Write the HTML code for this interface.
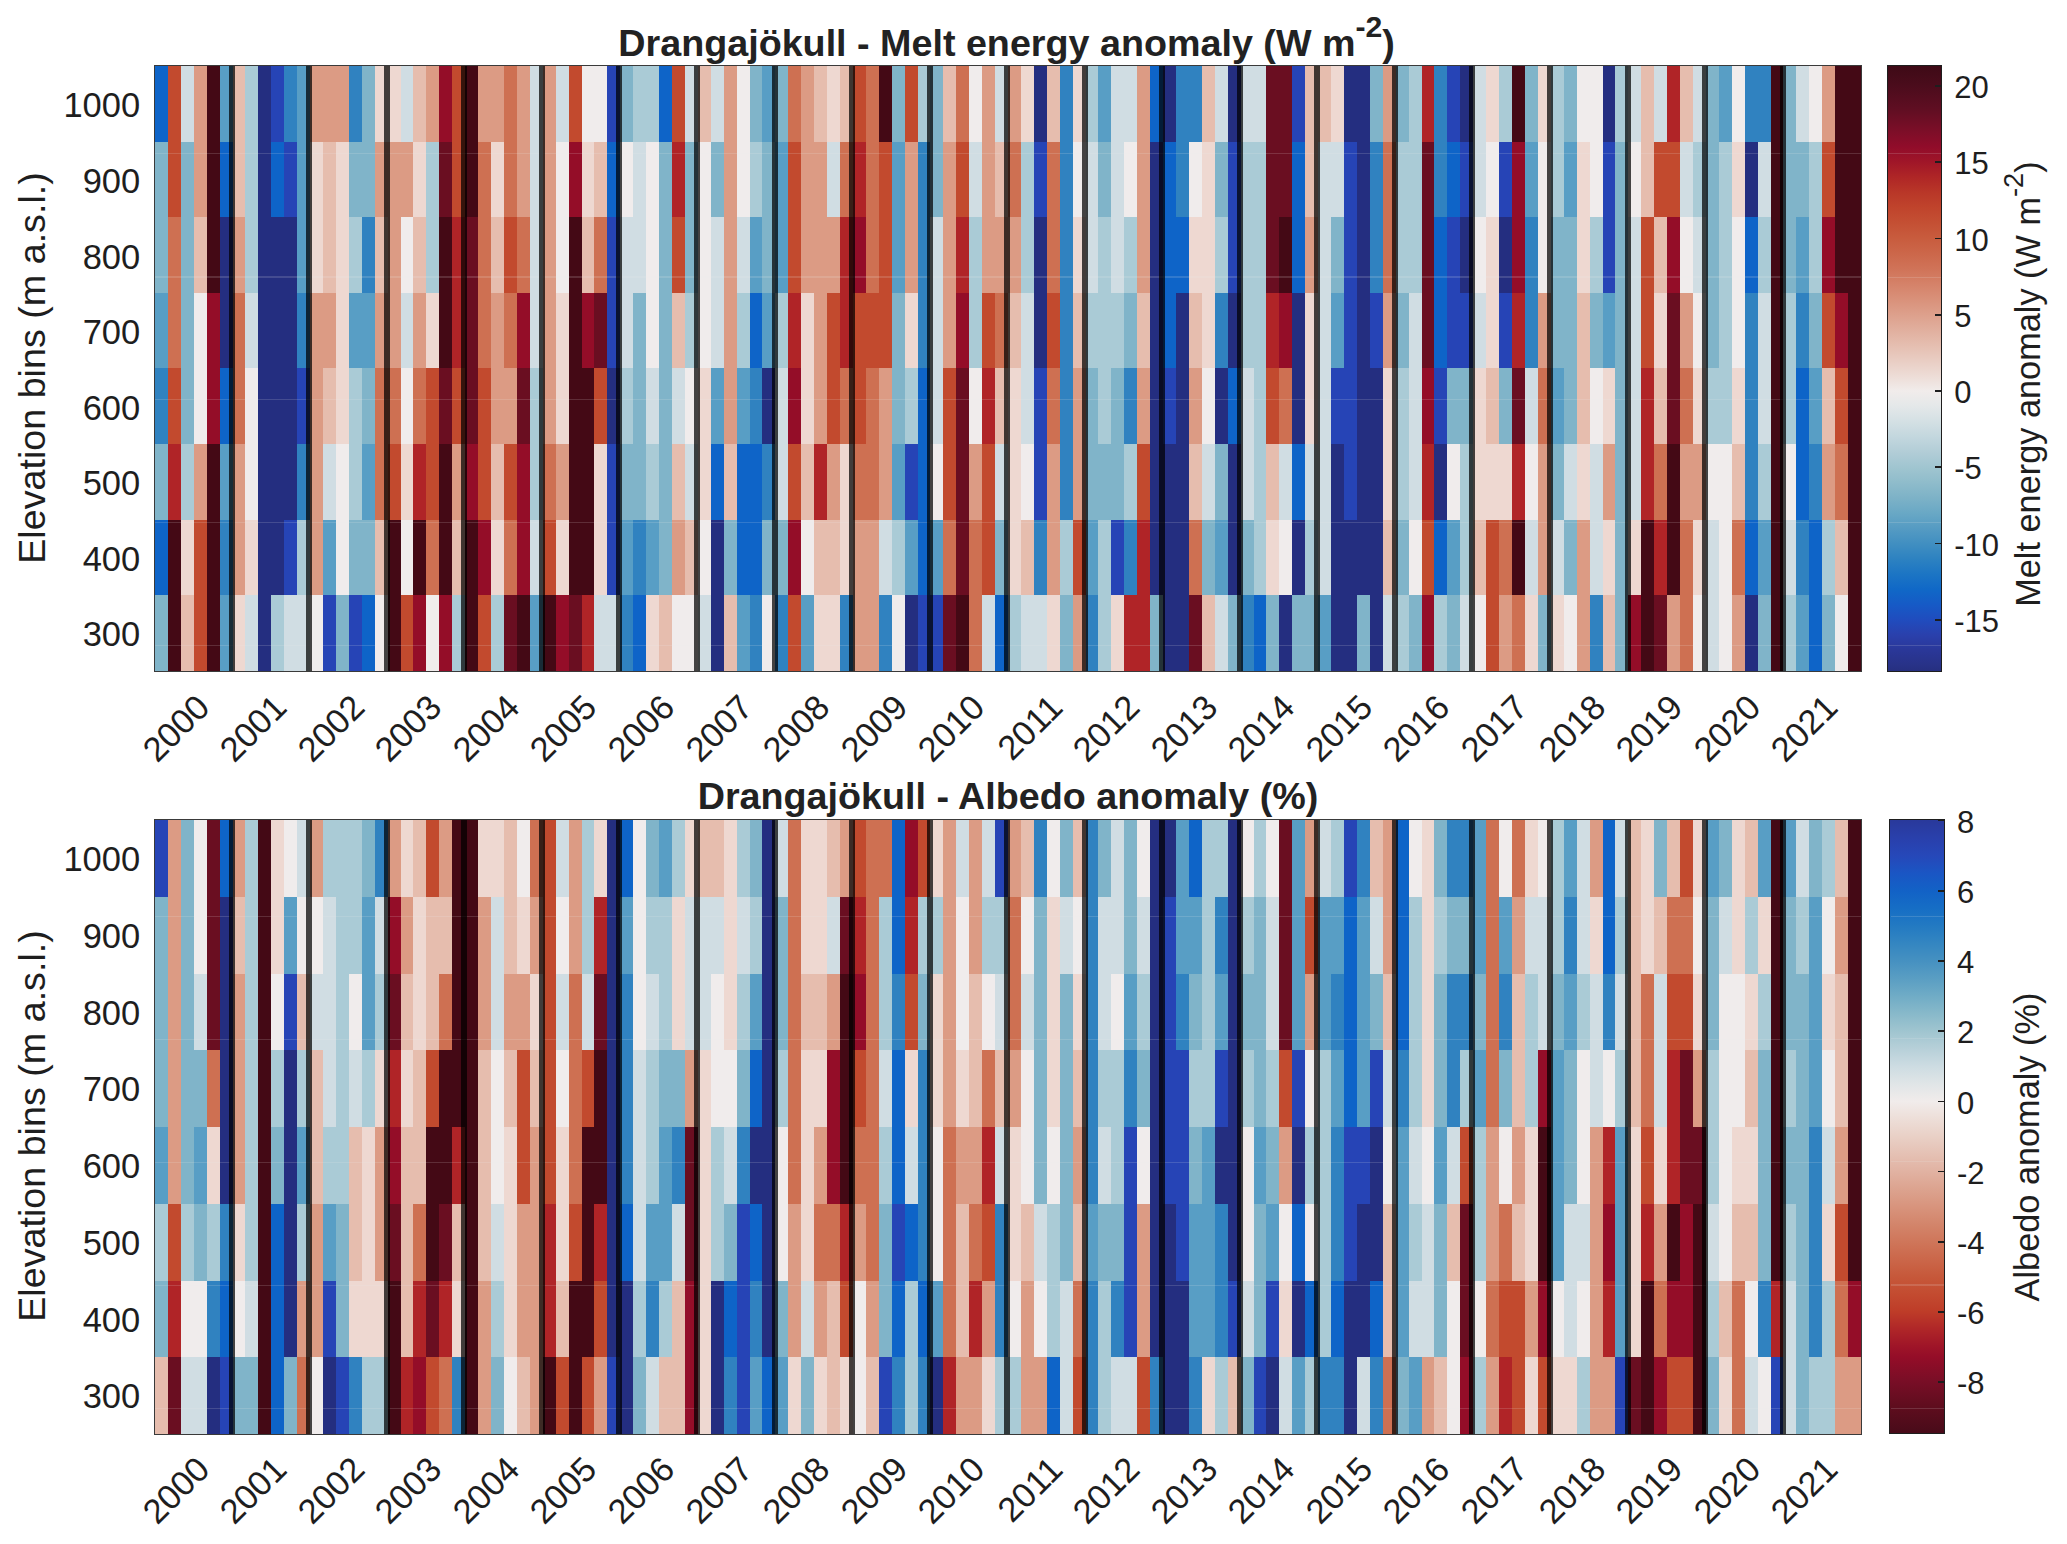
<!DOCTYPE html>
<html><head><meta charset="utf-8"><title>Drangajokull</title>
<style>
html,body{margin:0;padding:0;background:#fff}
body{width:2067px;height:1544px;position:relative;overflow:hidden;font-family:"Liberation Sans",sans-serif;color:#1e1e1e}
.hm{position:absolute;display:block}
.box{position:absolute;border:1.6px solid #3a3a3a;box-sizing:content-box;pointer-events:none}
.a{fill:rgb(36,46,128)}
.b{fill:rgb(38,68,182)}
.c{fill:rgb(14,100,200)}
.d{fill:rgb(48,130,192)}
.e{fill:rgb(88,158,197)}
.f{fill:rgb(128,180,201)}
.g{fill:rgb(170,203,214)}
.h{fill:rgb(208,221,227)}
.i{fill:rgb(240,236,236)}
.j{fill:rgb(238,216,209)}
.k{fill:rgb(230,189,174)}
.l{fill:rgb(220,155,132)}
.m{fill:rgb(206,112,82)}
.n{fill:rgb(194,74,46)}
.o{fill:rgb(176,36,39)}
.p{fill:rgb(148,13,40)}
.q{fill:rgb(106,14,33)}
.r{fill:rgb(68,9,21)}
.title{position:absolute;width:1400px;text-align:center;font-weight:bold;font-size:37.7px;letter-spacing:0.0px;line-height:50px;height:50px;white-space:nowrap;color:#222}
.title sup{font-size:30.2px;line-height:0;vertical-align:baseline;position:relative;top:-19px}
.yt{position:absolute;left:0;width:140.2px;text-align:right;font-size:34.5px;line-height:50px;height:50px}
.xt{position:absolute;width:200px;text-align:right;font-size:34.5px;line-height:50px;height:50px;transform-origin:100% 50%;transform:rotate(-45deg);white-space:nowrap}
.yl{position:absolute;width:800px;text-align:center;font-size:37.7px;line-height:50px;height:50px;transform:rotate(-90deg);transform-origin:50% 50%;white-space:nowrap}
.cb{position:absolute;border:1.5px solid #1e1e1e;box-sizing:border-box}
.ct{position:absolute;font-size:31.0px;line-height:50px;height:50px;white-space:nowrap}
.seam{position:absolute;height:1.2px;background:rgba(235,235,235,0.16)}
.ctk{position:absolute;width:6.5px;height:1.8px;background:#1e1e1e}
.cl{position:absolute;width:800px;text-align:center;font-size:34.3px;line-height:50px;height:50px;transform:rotate(-90deg);transform-origin:50% 50%;white-space:nowrap}
.cl sup{font-size:27.4px;line-height:0;vertical-align:baseline;position:relative;top:-17px}
</style></head><body>
<div class="title" style="left:306.6px;top:18.0px">Drangajökull - Melt energy anomaly (W m<sup>-2</sup>)</div>
<div class="title" style="left:308.0px;top:771.0px">Drangajökull - Albedo anomaly (%)</div>
<svg class="hm" style="left:154.5px;top:66.3px" width="1706.0" height="604.70" viewBox="0 0 1706.0 604.70" shape-rendering="crispEdges">
<rect class="c" x="0.00" y="0.00" width="13.22" height="75.89"/>
<rect class="n" x="12.92" y="0.00" width="13.22" height="75.89"/>
<rect class="h" x="25.85" y="0.00" width="13.22" height="75.89"/>
<rect class="l" x="38.77" y="0.00" width="13.22" height="75.89"/>
<rect class="r" x="51.70" y="0.00" width="13.22" height="75.89"/>
<rect class="e" x="64.62" y="0.00" width="13.22" height="75.89"/>
<rect class="k" x="77.55" y="0.00" width="13.22" height="75.89"/>
<rect class="g" x="90.47" y="0.00" width="13.22" height="75.89"/>
<rect class="a" x="103.39" y="0.00" width="13.22" height="75.89"/>
<rect class="b" x="116.32" y="0.00" width="13.22" height="75.89"/>
<rect class="d" x="129.24" y="0.00" width="13.22" height="75.89"/>
<rect class="e" x="142.17" y="0.00" width="13.22" height="75.89"/>
<rect class="l" x="155.09" y="0.00" width="39.07" height="75.89"/>
<rect class="d" x="193.86" y="0.00" width="13.22" height="75.89"/>
<rect class="f" x="206.79" y="0.00" width="13.22" height="75.89"/>
<rect class="j" x="219.71" y="0.00" width="26.15" height="75.89"/>
<rect class="h" x="245.56" y="0.00" width="13.22" height="75.89"/>
<rect class="k" x="258.48" y="0.00" width="13.22" height="75.89"/>
<rect class="l" x="271.41" y="0.00" width="13.22" height="75.89"/>
<rect class="p" x="284.33" y="0.00" width="13.22" height="75.89"/>
<rect class="n" x="297.26" y="0.00" width="13.22" height="75.89"/>
<rect class="r" x="310.18" y="0.00" width="13.22" height="75.89"/>
<rect class="l" x="323.11" y="0.00" width="26.15" height="75.89"/>
<rect class="m" x="348.95" y="0.00" width="13.22" height="75.89"/>
<rect class="l" x="361.88" y="0.00" width="13.22" height="75.89"/>
<rect class="h" x="374.80" y="0.00" width="13.22" height="75.89"/>
<rect class="l" x="387.73" y="0.00" width="13.22" height="75.89"/>
<rect class="h" x="400.65" y="0.00" width="13.22" height="75.89"/>
<rect class="n" x="413.58" y="0.00" width="13.22" height="75.89"/>
<rect class="i" x="426.50" y="0.00" width="26.15" height="75.89"/>
<rect class="b" x="452.35" y="0.00" width="13.22" height="75.89"/>
<rect class="f" x="465.27" y="0.00" width="13.22" height="75.89"/>
<rect class="g" x="478.20" y="0.00" width="26.15" height="75.89"/>
<rect class="c" x="504.05" y="0.00" width="13.22" height="75.89"/>
<rect class="n" x="516.97" y="0.00" width="13.22" height="75.89"/>
<rect class="h" x="529.89" y="0.00" width="13.22" height="75.89"/>
<rect class="k" x="542.82" y="0.00" width="13.22" height="75.89"/>
<rect class="h" x="555.74" y="0.00" width="13.22" height="75.89"/>
<rect class="l" x="568.67" y="0.00" width="13.22" height="75.89"/>
<rect class="i" x="581.59" y="0.00" width="13.22" height="75.89"/>
<rect class="f" x="594.52" y="0.00" width="13.22" height="75.89"/>
<rect class="e" x="607.44" y="0.00" width="13.22" height="75.89"/>
<rect class="f" x="620.36" y="0.00" width="13.22" height="75.89"/>
<rect class="m" x="633.29" y="0.00" width="13.22" height="75.89"/>
<rect class="l" x="646.21" y="0.00" width="13.22" height="75.89"/>
<rect class="k" x="659.14" y="0.00" width="13.22" height="75.89"/>
<rect class="j" x="672.06" y="0.00" width="13.22" height="75.89"/>
<rect class="k" x="684.98" y="0.00" width="13.22" height="75.89"/>
<rect class="n" x="697.91" y="0.00" width="13.22" height="75.89"/>
<rect class="m" x="710.83" y="0.00" width="13.22" height="75.89"/>
<rect class="r" x="723.76" y="0.00" width="13.22" height="75.89"/>
<rect class="f" x="736.68" y="0.00" width="13.22" height="75.89"/>
<rect class="n" x="749.61" y="0.00" width="13.22" height="75.89"/>
<rect class="g" x="762.53" y="0.00" width="13.22" height="75.89"/>
<rect class="f" x="775.45" y="0.00" width="13.22" height="75.89"/>
<rect class="k" x="788.38" y="0.00" width="13.22" height="75.89"/>
<rect class="m" x="801.30" y="0.00" width="13.22" height="75.89"/>
<rect class="i" x="814.23" y="0.00" width="13.22" height="75.89"/>
<rect class="l" x="827.15" y="0.00" width="13.22" height="75.89"/>
<rect class="h" x="840.08" y="0.00" width="13.22" height="75.89"/>
<rect class="l" x="853.00" y="0.00" width="13.22" height="75.89"/>
<rect class="j" x="865.92" y="0.00" width="13.22" height="75.89"/>
<rect class="a" x="878.85" y="0.00" width="13.22" height="75.89"/>
<rect class="k" x="891.77" y="0.00" width="13.22" height="75.89"/>
<rect class="d" x="904.70" y="0.00" width="13.22" height="75.89"/>
<rect class="j" x="917.62" y="0.00" width="13.22" height="75.89"/>
<rect class="g" x="930.55" y="0.00" width="13.22" height="75.89"/>
<rect class="e" x="943.47" y="0.00" width="13.22" height="75.89"/>
<rect class="h" x="956.39" y="0.00" width="26.15" height="75.89"/>
<rect class="l" x="982.24" y="0.00" width="13.22" height="75.89"/>
<rect class="c" x="995.17" y="0.00" width="13.22" height="75.89"/>
<rect class="a" x="1008.09" y="0.00" width="13.22" height="75.89"/>
<rect class="d" x="1021.02" y="0.00" width="26.15" height="75.89"/>
<rect class="k" x="1046.86" y="0.00" width="13.22" height="75.89"/>
<rect class="h" x="1059.79" y="0.00" width="13.22" height="75.89"/>
<rect class="a" x="1072.71" y="0.00" width="13.22" height="75.89"/>
<rect class="h" x="1085.64" y="0.00" width="26.15" height="75.89"/>
<rect class="q" x="1111.48" y="0.00" width="26.15" height="75.89"/>
<rect class="b" x="1137.33" y="0.00" width="13.22" height="75.89"/>
<rect class="k" x="1150.26" y="0.00" width="26.15" height="75.89"/>
<rect class="j" x="1176.11" y="0.00" width="13.22" height="75.89"/>
<rect class="a" x="1189.03" y="0.00" width="26.15" height="75.89"/>
<rect class="f" x="1214.88" y="0.00" width="13.22" height="75.89"/>
<rect class="l" x="1227.80" y="0.00" width="13.22" height="75.89"/>
<rect class="f" x="1240.73" y="0.00" width="13.22" height="75.89"/>
<rect class="g" x="1253.65" y="0.00" width="13.22" height="75.89"/>
<rect class="o" x="1266.58" y="0.00" width="13.22" height="75.89"/>
<rect class="d" x="1279.50" y="0.00" width="13.22" height="75.89"/>
<rect class="b" x="1292.42" y="0.00" width="13.22" height="75.89"/>
<rect class="a" x="1305.35" y="0.00" width="13.22" height="75.89"/>
<rect class="h" x="1318.27" y="0.00" width="13.22" height="75.89"/>
<rect class="j" x="1331.20" y="0.00" width="13.22" height="75.89"/>
<rect class="g" x="1344.12" y="0.00" width="13.22" height="75.89"/>
<rect class="r" x="1357.05" y="0.00" width="13.22" height="75.89"/>
<rect class="f" x="1369.97" y="0.00" width="13.22" height="75.89"/>
<rect class="j" x="1382.89" y="0.00" width="13.22" height="75.89"/>
<rect class="g" x="1395.82" y="0.00" width="13.22" height="75.89"/>
<rect class="f" x="1408.74" y="0.00" width="13.22" height="75.89"/>
<rect class="i" x="1421.67" y="0.00" width="26.15" height="75.89"/>
<rect class="a" x="1447.52" y="0.00" width="13.22" height="75.89"/>
<rect class="g" x="1460.44" y="0.00" width="13.22" height="75.89"/>
<rect class="h" x="1473.36" y="0.00" width="13.22" height="75.89"/>
<rect class="k" x="1486.29" y="0.00" width="13.22" height="75.89"/>
<rect class="h" x="1499.21" y="0.00" width="13.22" height="75.89"/>
<rect class="o" x="1512.14" y="0.00" width="13.22" height="75.89"/>
<rect class="k" x="1525.06" y="0.00" width="13.22" height="75.89"/>
<rect class="h" x="1537.98" y="0.00" width="13.22" height="75.89"/>
<rect class="f" x="1550.91" y="0.00" width="13.22" height="75.89"/>
<rect class="e" x="1563.83" y="0.00" width="13.22" height="75.89"/>
<rect class="i" x="1576.76" y="0.00" width="13.22" height="75.89"/>
<rect class="d" x="1589.68" y="0.00" width="26.15" height="75.89"/>
<rect class="r" x="1615.53" y="0.00" width="13.22" height="75.89"/>
<rect class="f" x="1628.45" y="0.00" width="13.22" height="75.89"/>
<rect class="h" x="1641.38" y="0.00" width="13.22" height="75.89"/>
<rect class="i" x="1654.30" y="0.00" width="13.22" height="75.89"/>
<rect class="l" x="1667.23" y="0.00" width="13.22" height="75.89"/>
<rect class="r" x="1680.15" y="0.00" width="26.15" height="75.89"/>
<rect class="f" x="0.00" y="75.59" width="13.22" height="75.89"/>
<rect class="n" x="12.92" y="75.59" width="13.22" height="75.89"/>
<rect class="f" x="25.85" y="75.59" width="13.22" height="75.89"/>
<rect class="l" x="38.77" y="75.59" width="13.22" height="75.89"/>
<rect class="r" x="51.70" y="75.59" width="13.22" height="75.89"/>
<rect class="c" x="64.62" y="75.59" width="13.22" height="75.89"/>
<rect class="k" x="77.55" y="75.59" width="13.22" height="75.89"/>
<rect class="g" x="90.47" y="75.59" width="13.22" height="75.89"/>
<rect class="a" x="103.39" y="75.59" width="13.22" height="75.89"/>
<rect class="c" x="116.32" y="75.59" width="13.22" height="75.89"/>
<rect class="b" x="129.24" y="75.59" width="13.22" height="75.89"/>
<rect class="e" x="142.17" y="75.59" width="13.22" height="75.89"/>
<rect class="j" x="155.09" y="75.59" width="13.22" height="75.89"/>
<rect class="k" x="168.02" y="75.59" width="13.22" height="75.89"/>
<rect class="j" x="180.94" y="75.59" width="13.22" height="75.89"/>
<rect class="f" x="193.86" y="75.59" width="26.15" height="75.89"/>
<rect class="l" x="219.71" y="75.59" width="39.07" height="75.89"/>
<rect class="j" x="258.48" y="75.59" width="13.22" height="75.89"/>
<rect class="g" x="271.41" y="75.59" width="13.22" height="75.89"/>
<rect class="q" x="284.33" y="75.59" width="13.22" height="75.89"/>
<rect class="n" x="297.26" y="75.59" width="13.22" height="75.89"/>
<rect class="r" x="310.18" y="75.59" width="13.22" height="75.89"/>
<rect class="m" x="323.11" y="75.59" width="13.22" height="75.89"/>
<rect class="j" x="336.03" y="75.59" width="13.22" height="75.89"/>
<rect class="m" x="348.95" y="75.59" width="13.22" height="75.89"/>
<rect class="l" x="361.88" y="75.59" width="13.22" height="75.89"/>
<rect class="h" x="374.80" y="75.59" width="13.22" height="75.89"/>
<rect class="l" x="387.73" y="75.59" width="13.22" height="75.89"/>
<rect class="i" x="400.65" y="75.59" width="13.22" height="75.89"/>
<rect class="p" x="413.58" y="75.59" width="13.22" height="75.89"/>
<rect class="j" x="426.50" y="75.59" width="13.22" height="75.89"/>
<rect class="k" x="439.42" y="75.59" width="13.22" height="75.89"/>
<rect class="c" x="452.35" y="75.59" width="13.22" height="75.89"/>
<rect class="i" x="465.27" y="75.59" width="13.22" height="75.89"/>
<rect class="h" x="478.20" y="75.59" width="13.22" height="75.89"/>
<rect class="i" x="491.12" y="75.59" width="13.22" height="75.89"/>
<rect class="f" x="504.05" y="75.59" width="13.22" height="75.89"/>
<rect class="o" x="516.97" y="75.59" width="13.22" height="75.89"/>
<rect class="f" x="529.89" y="75.59" width="13.22" height="75.89"/>
<rect class="i" x="542.82" y="75.59" width="13.22" height="75.89"/>
<rect class="f" x="555.74" y="75.59" width="13.22" height="75.89"/>
<rect class="l" x="568.67" y="75.59" width="13.22" height="75.89"/>
<rect class="i" x="581.59" y="75.59" width="13.22" height="75.89"/>
<rect class="g" x="594.52" y="75.59" width="13.22" height="75.89"/>
<rect class="f" x="607.44" y="75.59" width="13.22" height="75.89"/>
<rect class="e" x="620.36" y="75.59" width="13.22" height="75.89"/>
<rect class="n" x="633.29" y="75.59" width="13.22" height="75.89"/>
<rect class="l" x="646.21" y="75.59" width="26.15" height="75.89"/>
<rect class="h" x="672.06" y="75.59" width="13.22" height="75.89"/>
<rect class="m" x="684.98" y="75.59" width="13.22" height="75.89"/>
<rect class="o" x="697.91" y="75.59" width="13.22" height="75.89"/>
<rect class="m" x="710.83" y="75.59" width="13.22" height="75.89"/>
<rect class="n" x="723.76" y="75.59" width="13.22" height="75.89"/>
<rect class="e" x="736.68" y="75.59" width="13.22" height="75.89"/>
<rect class="l" x="749.61" y="75.59" width="13.22" height="75.89"/>
<rect class="d" x="762.53" y="75.59" width="13.22" height="75.89"/>
<rect class="f" x="775.45" y="75.59" width="13.22" height="75.89"/>
<rect class="l" x="788.38" y="75.59" width="13.22" height="75.89"/>
<rect class="n" x="801.30" y="75.59" width="13.22" height="75.89"/>
<rect class="h" x="814.23" y="75.59" width="13.22" height="75.89"/>
<rect class="l" x="827.15" y="75.59" width="13.22" height="75.89"/>
<rect class="k" x="840.08" y="75.59" width="13.22" height="75.89"/>
<rect class="m" x="853.00" y="75.59" width="13.22" height="75.89"/>
<rect class="g" x="865.92" y="75.59" width="13.22" height="75.89"/>
<rect class="b" x="878.85" y="75.59" width="13.22" height="75.89"/>
<rect class="m" x="891.77" y="75.59" width="13.22" height="75.89"/>
<rect class="d" x="904.70" y="75.59" width="13.22" height="75.89"/>
<rect class="i" x="917.62" y="75.59" width="13.22" height="75.89"/>
<rect class="h" x="930.55" y="75.59" width="13.22" height="75.89"/>
<rect class="f" x="943.47" y="75.59" width="13.22" height="75.89"/>
<rect class="h" x="956.39" y="75.59" width="13.22" height="75.89"/>
<rect class="i" x="969.32" y="75.59" width="13.22" height="75.89"/>
<rect class="l" x="982.24" y="75.59" width="13.22" height="75.89"/>
<rect class="a" x="995.17" y="75.59" width="13.22" height="75.89"/>
<rect class="c" x="1008.09" y="75.59" width="13.22" height="75.89"/>
<rect class="d" x="1021.02" y="75.59" width="13.22" height="75.89"/>
<rect class="i" x="1033.94" y="75.59" width="13.22" height="75.89"/>
<rect class="j" x="1046.86" y="75.59" width="13.22" height="75.89"/>
<rect class="f" x="1059.79" y="75.59" width="13.22" height="75.89"/>
<rect class="b" x="1072.71" y="75.59" width="13.22" height="75.89"/>
<rect class="g" x="1085.64" y="75.59" width="26.15" height="75.89"/>
<rect class="q" x="1111.48" y="75.59" width="26.15" height="75.89"/>
<rect class="c" x="1137.33" y="75.59" width="13.22" height="75.89"/>
<rect class="k" x="1150.26" y="75.59" width="13.22" height="75.89"/>
<rect class="h" x="1163.18" y="75.59" width="26.15" height="75.89"/>
<rect class="b" x="1189.03" y="75.59" width="13.22" height="75.89"/>
<rect class="a" x="1201.95" y="75.59" width="13.22" height="75.89"/>
<rect class="d" x="1214.88" y="75.59" width="13.22" height="75.89"/>
<rect class="m" x="1227.80" y="75.59" width="13.22" height="75.89"/>
<rect class="g" x="1240.73" y="75.59" width="26.15" height="75.89"/>
<rect class="q" x="1266.58" y="75.59" width="13.22" height="75.89"/>
<rect class="d" x="1279.50" y="75.59" width="13.22" height="75.89"/>
<rect class="c" x="1292.42" y="75.59" width="13.22" height="75.89"/>
<rect class="b" x="1305.35" y="75.59" width="13.22" height="75.89"/>
<rect class="h" x="1318.27" y="75.59" width="13.22" height="75.89"/>
<rect class="i" x="1331.20" y="75.59" width="13.22" height="75.89"/>
<rect class="b" x="1344.12" y="75.59" width="13.22" height="75.89"/>
<rect class="p" x="1357.05" y="75.59" width="13.22" height="75.89"/>
<rect class="e" x="1369.97" y="75.59" width="13.22" height="75.89"/>
<rect class="i" x="1382.89" y="75.59" width="13.22" height="75.89"/>
<rect class="g" x="1395.82" y="75.59" width="13.22" height="75.89"/>
<rect class="e" x="1408.74" y="75.59" width="13.22" height="75.89"/>
<rect class="j" x="1421.67" y="75.59" width="13.22" height="75.89"/>
<rect class="i" x="1434.59" y="75.59" width="13.22" height="75.89"/>
<rect class="b" x="1447.52" y="75.59" width="13.22" height="75.89"/>
<rect class="f" x="1460.44" y="75.59" width="13.22" height="75.89"/>
<rect class="i" x="1473.36" y="75.59" width="13.22" height="75.89"/>
<rect class="k" x="1486.29" y="75.59" width="13.22" height="75.89"/>
<rect class="n" x="1499.21" y="75.59" width="26.15" height="75.89"/>
<rect class="h" x="1525.06" y="75.59" width="13.22" height="75.89"/>
<rect class="g" x="1537.98" y="75.59" width="13.22" height="75.89"/>
<rect class="f" x="1550.91" y="75.59" width="13.22" height="75.89"/>
<rect class="g" x="1563.83" y="75.59" width="13.22" height="75.89"/>
<rect class="j" x="1576.76" y="75.59" width="13.22" height="75.89"/>
<rect class="a" x="1589.68" y="75.59" width="13.22" height="75.89"/>
<rect class="h" x="1602.61" y="75.59" width="13.22" height="75.89"/>
<rect class="r" x="1615.53" y="75.59" width="13.22" height="75.89"/>
<rect class="f" x="1628.45" y="75.59" width="26.15" height="75.89"/>
<rect class="g" x="1654.30" y="75.59" width="13.22" height="75.89"/>
<rect class="n" x="1667.23" y="75.59" width="13.22" height="75.89"/>
<rect class="r" x="1680.15" y="75.59" width="26.15" height="75.89"/>
<rect class="f" x="0.00" y="151.18" width="13.22" height="75.89"/>
<rect class="m" x="12.92" y="151.18" width="13.22" height="75.89"/>
<rect class="f" x="25.85" y="151.18" width="13.22" height="75.89"/>
<rect class="k" x="38.77" y="151.18" width="13.22" height="75.89"/>
<rect class="r" x="51.70" y="151.18" width="13.22" height="75.89"/>
<rect class="a" x="64.62" y="151.18" width="13.22" height="75.89"/>
<rect class="l" x="77.55" y="151.18" width="13.22" height="75.89"/>
<rect class="g" x="90.47" y="151.18" width="13.22" height="75.89"/>
<rect class="a" x="103.39" y="151.18" width="39.07" height="75.89"/>
<rect class="e" x="142.17" y="151.18" width="13.22" height="75.89"/>
<rect class="j" x="155.09" y="151.18" width="13.22" height="75.89"/>
<rect class="k" x="168.02" y="151.18" width="13.22" height="75.89"/>
<rect class="j" x="180.94" y="151.18" width="13.22" height="75.89"/>
<rect class="g" x="193.86" y="151.18" width="13.22" height="75.89"/>
<rect class="d" x="206.79" y="151.18" width="13.22" height="75.89"/>
<rect class="k" x="219.71" y="151.18" width="13.22" height="75.89"/>
<rect class="l" x="232.64" y="151.18" width="13.22" height="75.89"/>
<rect class="i" x="245.56" y="151.18" width="13.22" height="75.89"/>
<rect class="k" x="258.48" y="151.18" width="13.22" height="75.89"/>
<rect class="g" x="271.41" y="151.18" width="13.22" height="75.89"/>
<rect class="r" x="284.33" y="151.18" width="13.22" height="75.89"/>
<rect class="o" x="297.26" y="151.18" width="13.22" height="75.89"/>
<rect class="q" x="310.18" y="151.18" width="13.22" height="75.89"/>
<rect class="m" x="323.11" y="151.18" width="13.22" height="75.89"/>
<rect class="k" x="336.03" y="151.18" width="13.22" height="75.89"/>
<rect class="n" x="348.95" y="151.18" width="13.22" height="75.89"/>
<rect class="m" x="361.88" y="151.18" width="13.22" height="75.89"/>
<rect class="h" x="374.80" y="151.18" width="13.22" height="75.89"/>
<rect class="l" x="387.73" y="151.18" width="13.22" height="75.89"/>
<rect class="i" x="400.65" y="151.18" width="13.22" height="75.89"/>
<rect class="r" x="413.58" y="151.18" width="13.22" height="75.89"/>
<rect class="k" x="426.50" y="151.18" width="13.22" height="75.89"/>
<rect class="m" x="439.42" y="151.18" width="13.22" height="75.89"/>
<rect class="b" x="452.35" y="151.18" width="13.22" height="75.89"/>
<rect class="h" x="465.27" y="151.18" width="26.15" height="75.89"/>
<rect class="i" x="491.12" y="151.18" width="13.22" height="75.89"/>
<rect class="f" x="504.05" y="151.18" width="13.22" height="75.89"/>
<rect class="n" x="516.97" y="151.18" width="13.22" height="75.89"/>
<rect class="f" x="529.89" y="151.18" width="13.22" height="75.89"/>
<rect class="i" x="542.82" y="151.18" width="13.22" height="75.89"/>
<rect class="h" x="555.74" y="151.18" width="13.22" height="75.89"/>
<rect class="l" x="568.67" y="151.18" width="13.22" height="75.89"/>
<rect class="h" x="581.59" y="151.18" width="13.22" height="75.89"/>
<rect class="e" x="594.52" y="151.18" width="13.22" height="75.89"/>
<rect class="f" x="607.44" y="151.18" width="13.22" height="75.89"/>
<rect class="e" x="620.36" y="151.18" width="13.22" height="75.89"/>
<rect class="n" x="633.29" y="151.18" width="13.22" height="75.89"/>
<rect class="l" x="646.21" y="151.18" width="39.07" height="75.89"/>
<rect class="o" x="684.98" y="151.18" width="13.22" height="75.89"/>
<rect class="p" x="697.91" y="151.18" width="13.22" height="75.89"/>
<rect class="m" x="710.83" y="151.18" width="13.22" height="75.89"/>
<rect class="n" x="723.76" y="151.18" width="13.22" height="75.89"/>
<rect class="e" x="736.68" y="151.18" width="13.22" height="75.89"/>
<rect class="l" x="749.61" y="151.18" width="13.22" height="75.89"/>
<rect class="d" x="762.53" y="151.18" width="13.22" height="75.89"/>
<rect class="h" x="775.45" y="151.18" width="13.22" height="75.89"/>
<rect class="l" x="788.38" y="151.18" width="13.22" height="75.89"/>
<rect class="o" x="801.30" y="151.18" width="13.22" height="75.89"/>
<rect class="g" x="814.23" y="151.18" width="13.22" height="75.89"/>
<rect class="l" x="827.15" y="151.18" width="39.07" height="75.89"/>
<rect class="g" x="865.92" y="151.18" width="13.22" height="75.89"/>
<rect class="a" x="878.85" y="151.18" width="13.22" height="75.89"/>
<rect class="m" x="891.77" y="151.18" width="13.22" height="75.89"/>
<rect class="d" x="904.70" y="151.18" width="13.22" height="75.89"/>
<rect class="j" x="917.62" y="151.18" width="13.22" height="75.89"/>
<rect class="h" x="930.55" y="151.18" width="13.22" height="75.89"/>
<rect class="g" x="943.47" y="151.18" width="13.22" height="75.89"/>
<rect class="h" x="956.39" y="151.18" width="13.22" height="75.89"/>
<rect class="g" x="969.32" y="151.18" width="13.22" height="75.89"/>
<rect class="l" x="982.24" y="151.18" width="13.22" height="75.89"/>
<rect class="a" x="995.17" y="151.18" width="13.22" height="75.89"/>
<rect class="c" x="1008.09" y="151.18" width="26.15" height="75.89"/>
<rect class="j" x="1033.94" y="151.18" width="26.15" height="75.89"/>
<rect class="g" x="1059.79" y="151.18" width="13.22" height="75.89"/>
<rect class="b" x="1072.71" y="151.18" width="13.22" height="75.89"/>
<rect class="g" x="1085.64" y="151.18" width="26.15" height="75.89"/>
<rect class="q" x="1111.48" y="151.18" width="13.22" height="75.89"/>
<rect class="r" x="1124.41" y="151.18" width="13.22" height="75.89"/>
<rect class="c" x="1137.33" y="151.18" width="13.22" height="75.89"/>
<rect class="l" x="1150.26" y="151.18" width="13.22" height="75.89"/>
<rect class="h" x="1163.18" y="151.18" width="13.22" height="75.89"/>
<rect class="f" x="1176.11" y="151.18" width="13.22" height="75.89"/>
<rect class="b" x="1189.03" y="151.18" width="13.22" height="75.89"/>
<rect class="a" x="1201.95" y="151.18" width="13.22" height="75.89"/>
<rect class="d" x="1214.88" y="151.18" width="13.22" height="75.89"/>
<rect class="m" x="1227.80" y="151.18" width="13.22" height="75.89"/>
<rect class="g" x="1240.73" y="151.18" width="26.15" height="75.89"/>
<rect class="q" x="1266.58" y="151.18" width="13.22" height="75.89"/>
<rect class="c" x="1279.50" y="151.18" width="13.22" height="75.89"/>
<rect class="b" x="1292.42" y="151.18" width="13.22" height="75.89"/>
<rect class="a" x="1305.35" y="151.18" width="13.22" height="75.89"/>
<rect class="i" x="1318.27" y="151.18" width="13.22" height="75.89"/>
<rect class="j" x="1331.20" y="151.18" width="13.22" height="75.89"/>
<rect class="a" x="1344.12" y="151.18" width="13.22" height="75.89"/>
<rect class="p" x="1357.05" y="151.18" width="13.22" height="75.89"/>
<rect class="d" x="1369.97" y="151.18" width="13.22" height="75.89"/>
<rect class="i" x="1382.89" y="151.18" width="13.22" height="75.89"/>
<rect class="f" x="1395.82" y="151.18" width="26.15" height="75.89"/>
<rect class="j" x="1421.67" y="151.18" width="13.22" height="75.89"/>
<rect class="g" x="1434.59" y="151.18" width="13.22" height="75.89"/>
<rect class="b" x="1447.52" y="151.18" width="13.22" height="75.89"/>
<rect class="f" x="1460.44" y="151.18" width="13.22" height="75.89"/>
<rect class="h" x="1473.36" y="151.18" width="13.22" height="75.89"/>
<rect class="n" x="1486.29" y="151.18" width="13.22" height="75.89"/>
<rect class="k" x="1499.21" y="151.18" width="13.22" height="75.89"/>
<rect class="p" x="1512.14" y="151.18" width="13.22" height="75.89"/>
<rect class="i" x="1525.06" y="151.18" width="13.22" height="75.89"/>
<rect class="h" x="1537.98" y="151.18" width="13.22" height="75.89"/>
<rect class="f" x="1550.91" y="151.18" width="13.22" height="75.89"/>
<rect class="g" x="1563.83" y="151.18" width="13.22" height="75.89"/>
<rect class="i" x="1576.76" y="151.18" width="13.22" height="75.89"/>
<rect class="c" x="1589.68" y="151.18" width="13.22" height="75.89"/>
<rect class="g" x="1602.61" y="151.18" width="13.22" height="75.89"/>
<rect class="r" x="1615.53" y="151.18" width="13.22" height="75.89"/>
<rect class="f" x="1628.45" y="151.18" width="13.22" height="75.89"/>
<rect class="e" x="1641.38" y="151.18" width="13.22" height="75.89"/>
<rect class="g" x="1654.30" y="151.18" width="13.22" height="75.89"/>
<rect class="p" x="1667.23" y="151.18" width="13.22" height="75.89"/>
<rect class="r" x="1680.15" y="151.18" width="26.15" height="75.89"/>
<rect class="e" x="0.00" y="226.76" width="13.22" height="75.89"/>
<rect class="m" x="12.92" y="226.76" width="13.22" height="75.89"/>
<rect class="f" x="25.85" y="226.76" width="13.22" height="75.89"/>
<rect class="i" x="38.77" y="226.76" width="13.22" height="75.89"/>
<rect class="p" x="51.70" y="226.76" width="13.22" height="75.89"/>
<rect class="a" x="64.62" y="226.76" width="13.22" height="75.89"/>
<rect class="m" x="77.55" y="226.76" width="13.22" height="75.89"/>
<rect class="h" x="90.47" y="226.76" width="13.22" height="75.89"/>
<rect class="a" x="103.39" y="226.76" width="39.07" height="75.89"/>
<rect class="d" x="142.17" y="226.76" width="13.22" height="75.89"/>
<rect class="l" x="155.09" y="226.76" width="26.15" height="75.89"/>
<rect class="j" x="180.94" y="226.76" width="13.22" height="75.89"/>
<rect class="e" x="193.86" y="226.76" width="26.15" height="75.89"/>
<rect class="l" x="219.71" y="226.76" width="26.15" height="75.89"/>
<rect class="h" x="245.56" y="226.76" width="13.22" height="75.89"/>
<rect class="l" x="258.48" y="226.76" width="13.22" height="75.89"/>
<rect class="j" x="271.41" y="226.76" width="13.22" height="75.89"/>
<rect class="r" x="284.33" y="226.76" width="13.22" height="75.89"/>
<rect class="o" x="297.26" y="226.76" width="13.22" height="75.89"/>
<rect class="q" x="310.18" y="226.76" width="13.22" height="75.89"/>
<rect class="m" x="323.11" y="226.76" width="13.22" height="75.89"/>
<rect class="l" x="336.03" y="226.76" width="13.22" height="75.89"/>
<rect class="m" x="348.95" y="226.76" width="13.22" height="75.89"/>
<rect class="p" x="361.88" y="226.76" width="13.22" height="75.89"/>
<rect class="h" x="374.80" y="226.76" width="13.22" height="75.89"/>
<rect class="l" x="387.73" y="226.76" width="13.22" height="75.89"/>
<rect class="j" x="400.65" y="226.76" width="13.22" height="75.89"/>
<rect class="r" x="413.58" y="226.76" width="13.22" height="75.89"/>
<rect class="p" x="426.50" y="226.76" width="13.22" height="75.89"/>
<rect class="q" x="439.42" y="226.76" width="13.22" height="75.89"/>
<rect class="b" x="452.35" y="226.76" width="13.22" height="75.89"/>
<rect class="h" x="465.27" y="226.76" width="13.22" height="75.89"/>
<rect class="f" x="478.20" y="226.76" width="13.22" height="75.89"/>
<rect class="i" x="491.12" y="226.76" width="13.22" height="75.89"/>
<rect class="f" x="504.05" y="226.76" width="13.22" height="75.89"/>
<rect class="k" x="516.97" y="226.76" width="13.22" height="75.89"/>
<rect class="g" x="529.89" y="226.76" width="13.22" height="75.89"/>
<rect class="i" x="542.82" y="226.76" width="13.22" height="75.89"/>
<rect class="h" x="555.74" y="226.76" width="13.22" height="75.89"/>
<rect class="l" x="568.67" y="226.76" width="13.22" height="75.89"/>
<rect class="g" x="581.59" y="226.76" width="13.22" height="75.89"/>
<rect class="c" x="594.52" y="226.76" width="13.22" height="75.89"/>
<rect class="e" x="607.44" y="226.76" width="13.22" height="75.89"/>
<rect class="g" x="620.36" y="226.76" width="13.22" height="75.89"/>
<rect class="o" x="633.29" y="226.76" width="13.22" height="75.89"/>
<rect class="j" x="646.21" y="226.76" width="13.22" height="75.89"/>
<rect class="l" x="659.14" y="226.76" width="13.22" height="75.89"/>
<rect class="n" x="672.06" y="226.76" width="13.22" height="75.89"/>
<rect class="o" x="684.98" y="226.76" width="13.22" height="75.89"/>
<rect class="n" x="697.91" y="226.76" width="39.07" height="75.89"/>
<rect class="f" x="736.68" y="226.76" width="13.22" height="75.89"/>
<rect class="j" x="749.61" y="226.76" width="13.22" height="75.89"/>
<rect class="d" x="762.53" y="226.76" width="13.22" height="75.89"/>
<rect class="h" x="775.45" y="226.76" width="13.22" height="75.89"/>
<rect class="l" x="788.38" y="226.76" width="13.22" height="75.89"/>
<rect class="p" x="801.30" y="226.76" width="13.22" height="75.89"/>
<rect class="g" x="814.23" y="226.76" width="13.22" height="75.89"/>
<rect class="n" x="827.15" y="226.76" width="13.22" height="75.89"/>
<rect class="m" x="840.08" y="226.76" width="13.22" height="75.89"/>
<rect class="k" x="853.00" y="226.76" width="13.22" height="75.89"/>
<rect class="h" x="865.92" y="226.76" width="13.22" height="75.89"/>
<rect class="a" x="878.85" y="226.76" width="13.22" height="75.89"/>
<rect class="n" x="891.77" y="226.76" width="13.22" height="75.89"/>
<rect class="d" x="904.70" y="226.76" width="13.22" height="75.89"/>
<rect class="k" x="917.62" y="226.76" width="13.22" height="75.89"/>
<rect class="g" x="930.55" y="226.76" width="39.07" height="75.89"/>
<rect class="f" x="969.32" y="226.76" width="13.22" height="75.89"/>
<rect class="k" x="982.24" y="226.76" width="13.22" height="75.89"/>
<rect class="a" x="995.17" y="226.76" width="13.22" height="75.89"/>
<rect class="c" x="1008.09" y="226.76" width="13.22" height="75.89"/>
<rect class="a" x="1021.02" y="226.76" width="13.22" height="75.89"/>
<rect class="k" x="1033.94" y="226.76" width="13.22" height="75.89"/>
<rect class="j" x="1046.86" y="226.76" width="13.22" height="75.89"/>
<rect class="d" x="1059.79" y="226.76" width="13.22" height="75.89"/>
<rect class="a" x="1072.71" y="226.76" width="13.22" height="75.89"/>
<rect class="g" x="1085.64" y="226.76" width="26.15" height="75.89"/>
<rect class="o" x="1111.48" y="226.76" width="13.22" height="75.89"/>
<rect class="p" x="1124.41" y="226.76" width="13.22" height="75.89"/>
<rect class="a" x="1137.33" y="226.76" width="13.22" height="75.89"/>
<rect class="j" x="1150.26" y="226.76" width="13.22" height="75.89"/>
<rect class="h" x="1163.18" y="226.76" width="13.22" height="75.89"/>
<rect class="e" x="1176.11" y="226.76" width="13.22" height="75.89"/>
<rect class="b" x="1189.03" y="226.76" width="13.22" height="75.89"/>
<rect class="a" x="1201.95" y="226.76" width="13.22" height="75.89"/>
<rect class="b" x="1214.88" y="226.76" width="13.22" height="75.89"/>
<rect class="l" x="1227.80" y="226.76" width="13.22" height="75.89"/>
<rect class="f" x="1240.73" y="226.76" width="13.22" height="75.89"/>
<rect class="h" x="1253.65" y="226.76" width="13.22" height="75.89"/>
<rect class="q" x="1266.58" y="226.76" width="13.22" height="75.89"/>
<rect class="c" x="1279.50" y="226.76" width="13.22" height="75.89"/>
<rect class="b" x="1292.42" y="226.76" width="26.15" height="75.89"/>
<rect class="h" x="1318.27" y="226.76" width="13.22" height="75.89"/>
<rect class="j" x="1331.20" y="226.76" width="13.22" height="75.89"/>
<rect class="b" x="1344.12" y="226.76" width="13.22" height="75.89"/>
<rect class="o" x="1357.05" y="226.76" width="13.22" height="75.89"/>
<rect class="d" x="1369.97" y="226.76" width="13.22" height="75.89"/>
<rect class="l" x="1382.89" y="226.76" width="13.22" height="75.89"/>
<rect class="f" x="1395.82" y="226.76" width="26.15" height="75.89"/>
<rect class="k" x="1421.67" y="226.76" width="13.22" height="75.89"/>
<rect class="f" x="1434.59" y="226.76" width="13.22" height="75.89"/>
<rect class="e" x="1447.52" y="226.76" width="13.22" height="75.89"/>
<rect class="f" x="1460.44" y="226.76" width="13.22" height="75.89"/>
<rect class="h" x="1473.36" y="226.76" width="13.22" height="75.89"/>
<rect class="n" x="1486.29" y="226.76" width="13.22" height="75.89"/>
<rect class="j" x="1499.21" y="226.76" width="13.22" height="75.89"/>
<rect class="q" x="1512.14" y="226.76" width="13.22" height="75.89"/>
<rect class="l" x="1525.06" y="226.76" width="13.22" height="75.89"/>
<rect class="i" x="1537.98" y="226.76" width="13.22" height="75.89"/>
<rect class="f" x="1550.91" y="226.76" width="13.22" height="75.89"/>
<rect class="g" x="1563.83" y="226.76" width="13.22" height="75.89"/>
<rect class="i" x="1576.76" y="226.76" width="13.22" height="75.89"/>
<rect class="d" x="1589.68" y="226.76" width="13.22" height="75.89"/>
<rect class="h" x="1602.61" y="226.76" width="13.22" height="75.89"/>
<rect class="r" x="1615.53" y="226.76" width="13.22" height="75.89"/>
<rect class="g" x="1628.45" y="226.76" width="13.22" height="75.89"/>
<rect class="d" x="1641.38" y="226.76" width="13.22" height="75.89"/>
<rect class="f" x="1654.30" y="226.76" width="13.22" height="75.89"/>
<rect class="n" x="1667.23" y="226.76" width="13.22" height="75.89"/>
<rect class="p" x="1680.15" y="226.76" width="13.22" height="75.89"/>
<rect class="r" x="1693.08" y="226.76" width="13.22" height="75.89"/>
<rect class="d" x="0.00" y="302.35" width="13.22" height="75.89"/>
<rect class="n" x="12.92" y="302.35" width="13.22" height="75.89"/>
<rect class="f" x="25.85" y="302.35" width="13.22" height="75.89"/>
<rect class="i" x="38.77" y="302.35" width="13.22" height="75.89"/>
<rect class="p" x="51.70" y="302.35" width="13.22" height="75.89"/>
<rect class="c" x="64.62" y="302.35" width="13.22" height="75.89"/>
<rect class="m" x="77.55" y="302.35" width="13.22" height="75.89"/>
<rect class="i" x="90.47" y="302.35" width="13.22" height="75.89"/>
<rect class="a" x="103.39" y="302.35" width="39.07" height="75.89"/>
<rect class="b" x="142.17" y="302.35" width="13.22" height="75.89"/>
<rect class="l" x="155.09" y="302.35" width="13.22" height="75.89"/>
<rect class="k" x="168.02" y="302.35" width="13.22" height="75.89"/>
<rect class="j" x="180.94" y="302.35" width="13.22" height="75.89"/>
<rect class="g" x="193.86" y="302.35" width="13.22" height="75.89"/>
<rect class="f" x="206.79" y="302.35" width="13.22" height="75.89"/>
<rect class="m" x="219.71" y="302.35" width="26.15" height="75.89"/>
<rect class="i" x="245.56" y="302.35" width="13.22" height="75.89"/>
<rect class="m" x="258.48" y="302.35" width="13.22" height="75.89"/>
<rect class="n" x="271.41" y="302.35" width="13.22" height="75.89"/>
<rect class="q" x="284.33" y="302.35" width="13.22" height="75.89"/>
<rect class="n" x="297.26" y="302.35" width="13.22" height="75.89"/>
<rect class="q" x="310.18" y="302.35" width="13.22" height="75.89"/>
<rect class="n" x="323.11" y="302.35" width="13.22" height="75.89"/>
<rect class="l" x="336.03" y="302.35" width="26.15" height="75.89"/>
<rect class="q" x="361.88" y="302.35" width="13.22" height="75.89"/>
<rect class="g" x="374.80" y="302.35" width="13.22" height="75.89"/>
<rect class="l" x="387.73" y="302.35" width="13.22" height="75.89"/>
<rect class="j" x="400.65" y="302.35" width="13.22" height="75.89"/>
<rect class="r" x="413.58" y="302.35" width="26.15" height="75.89"/>
<rect class="n" x="439.42" y="302.35" width="13.22" height="75.89"/>
<rect class="a" x="452.35" y="302.35" width="13.22" height="75.89"/>
<rect class="g" x="465.27" y="302.35" width="13.22" height="75.89"/>
<rect class="f" x="478.20" y="302.35" width="13.22" height="75.89"/>
<rect class="h" x="491.12" y="302.35" width="13.22" height="75.89"/>
<rect class="f" x="504.05" y="302.35" width="13.22" height="75.89"/>
<rect class="h" x="516.97" y="302.35" width="13.22" height="75.89"/>
<rect class="i" x="529.89" y="302.35" width="13.22" height="75.89"/>
<rect class="j" x="542.82" y="302.35" width="13.22" height="75.89"/>
<rect class="e" x="555.74" y="302.35" width="13.22" height="75.89"/>
<rect class="l" x="568.67" y="302.35" width="13.22" height="75.89"/>
<rect class="e" x="581.59" y="302.35" width="13.22" height="75.89"/>
<rect class="d" x="594.52" y="302.35" width="13.22" height="75.89"/>
<rect class="a" x="607.44" y="302.35" width="13.22" height="75.89"/>
<rect class="h" x="620.36" y="302.35" width="13.22" height="75.89"/>
<rect class="p" x="633.29" y="302.35" width="13.22" height="75.89"/>
<rect class="j" x="646.21" y="302.35" width="13.22" height="75.89"/>
<rect class="l" x="659.14" y="302.35" width="13.22" height="75.89"/>
<rect class="n" x="672.06" y="302.35" width="13.22" height="75.89"/>
<rect class="m" x="684.98" y="302.35" width="13.22" height="75.89"/>
<rect class="n" x="697.91" y="302.35" width="13.22" height="75.89"/>
<rect class="m" x="710.83" y="302.35" width="13.22" height="75.89"/>
<rect class="l" x="723.76" y="302.35" width="13.22" height="75.89"/>
<rect class="f" x="736.68" y="302.35" width="13.22" height="75.89"/>
<rect class="g" x="749.61" y="302.35" width="13.22" height="75.89"/>
<rect class="c" x="762.53" y="302.35" width="13.22" height="75.89"/>
<rect class="h" x="775.45" y="302.35" width="13.22" height="75.89"/>
<rect class="n" x="788.38" y="302.35" width="13.22" height="75.89"/>
<rect class="q" x="801.30" y="302.35" width="13.22" height="75.89"/>
<rect class="i" x="814.23" y="302.35" width="13.22" height="75.89"/>
<rect class="o" x="827.15" y="302.35" width="13.22" height="75.89"/>
<rect class="k" x="840.08" y="302.35" width="13.22" height="75.89"/>
<rect class="j" x="853.00" y="302.35" width="13.22" height="75.89"/>
<rect class="h" x="865.92" y="302.35" width="13.22" height="75.89"/>
<rect class="b" x="878.85" y="302.35" width="13.22" height="75.89"/>
<rect class="m" x="891.77" y="302.35" width="13.22" height="75.89"/>
<rect class="d" x="904.70" y="302.35" width="13.22" height="75.89"/>
<rect class="l" x="917.62" y="302.35" width="13.22" height="75.89"/>
<rect class="f" x="930.55" y="302.35" width="13.22" height="75.89"/>
<rect class="g" x="943.47" y="302.35" width="13.22" height="75.89"/>
<rect class="f" x="956.39" y="302.35" width="13.22" height="75.89"/>
<rect class="d" x="969.32" y="302.35" width="13.22" height="75.89"/>
<rect class="l" x="982.24" y="302.35" width="13.22" height="75.89"/>
<rect class="a" x="995.17" y="302.35" width="13.22" height="75.89"/>
<rect class="b" x="1008.09" y="302.35" width="13.22" height="75.89"/>
<rect class="a" x="1021.02" y="302.35" width="13.22" height="75.89"/>
<rect class="l" x="1033.94" y="302.35" width="13.22" height="75.89"/>
<rect class="i" x="1046.86" y="302.35" width="13.22" height="75.89"/>
<rect class="a" x="1059.79" y="302.35" width="13.22" height="75.89"/>
<rect class="c" x="1072.71" y="302.35" width="13.22" height="75.89"/>
<rect class="h" x="1085.64" y="302.35" width="13.22" height="75.89"/>
<rect class="g" x="1098.56" y="302.35" width="13.22" height="75.89"/>
<rect class="n" x="1111.48" y="302.35" width="13.22" height="75.89"/>
<rect class="m" x="1124.41" y="302.35" width="13.22" height="75.89"/>
<rect class="a" x="1137.33" y="302.35" width="13.22" height="75.89"/>
<rect class="j" x="1150.26" y="302.35" width="13.22" height="75.89"/>
<rect class="h" x="1163.18" y="302.35" width="13.22" height="75.89"/>
<rect class="b" x="1176.11" y="302.35" width="26.15" height="75.89"/>
<rect class="a" x="1201.95" y="302.35" width="26.15" height="75.89"/>
<rect class="j" x="1227.80" y="302.35" width="13.22" height="75.89"/>
<rect class="g" x="1240.73" y="302.35" width="13.22" height="75.89"/>
<rect class="h" x="1253.65" y="302.35" width="13.22" height="75.89"/>
<rect class="p" x="1266.58" y="302.35" width="13.22" height="75.89"/>
<rect class="b" x="1279.50" y="302.35" width="13.22" height="75.89"/>
<rect class="f" x="1292.42" y="302.35" width="26.15" height="75.89"/>
<rect class="j" x="1318.27" y="302.35" width="13.22" height="75.89"/>
<rect class="k" x="1331.20" y="302.35" width="13.22" height="75.89"/>
<rect class="f" x="1344.12" y="302.35" width="13.22" height="75.89"/>
<rect class="q" x="1357.05" y="302.35" width="13.22" height="75.89"/>
<rect class="h" x="1369.97" y="302.35" width="13.22" height="75.89"/>
<rect class="m" x="1382.89" y="302.35" width="13.22" height="75.89"/>
<rect class="e" x="1395.82" y="302.35" width="13.22" height="75.89"/>
<rect class="f" x="1408.74" y="302.35" width="13.22" height="75.89"/>
<rect class="k" x="1421.67" y="302.35" width="13.22" height="75.89"/>
<rect class="i" x="1434.59" y="302.35" width="13.22" height="75.89"/>
<rect class="j" x="1447.52" y="302.35" width="13.22" height="75.89"/>
<rect class="f" x="1460.44" y="302.35" width="13.22" height="75.89"/>
<rect class="h" x="1473.36" y="302.35" width="13.22" height="75.89"/>
<rect class="o" x="1486.29" y="302.35" width="13.22" height="75.89"/>
<rect class="k" x="1499.21" y="302.35" width="13.22" height="75.89"/>
<rect class="q" x="1512.14" y="302.35" width="13.22" height="75.89"/>
<rect class="m" x="1525.06" y="302.35" width="13.22" height="75.89"/>
<rect class="j" x="1537.98" y="302.35" width="13.22" height="75.89"/>
<rect class="g" x="1550.91" y="302.35" width="26.15" height="75.89"/>
<rect class="j" x="1576.76" y="302.35" width="13.22" height="75.89"/>
<rect class="d" x="1589.68" y="302.35" width="13.22" height="75.89"/>
<rect class="h" x="1602.61" y="302.35" width="13.22" height="75.89"/>
<rect class="r" x="1615.53" y="302.35" width="13.22" height="75.89"/>
<rect class="g" x="1628.45" y="302.35" width="13.22" height="75.89"/>
<rect class="c" x="1641.38" y="302.35" width="13.22" height="75.89"/>
<rect class="e" x="1654.30" y="302.35" width="13.22" height="75.89"/>
<rect class="k" x="1667.23" y="302.35" width="13.22" height="75.89"/>
<rect class="n" x="1680.15" y="302.35" width="13.22" height="75.89"/>
<rect class="r" x="1693.08" y="302.35" width="13.22" height="75.89"/>
<rect class="f" x="0.00" y="377.94" width="13.22" height="75.89"/>
<rect class="o" x="12.92" y="377.94" width="13.22" height="75.89"/>
<rect class="g" x="25.85" y="377.94" width="13.22" height="75.89"/>
<rect class="l" x="38.77" y="377.94" width="13.22" height="75.89"/>
<rect class="r" x="51.70" y="377.94" width="13.22" height="75.89"/>
<rect class="e" x="64.62" y="377.94" width="13.22" height="75.89"/>
<rect class="l" x="77.55" y="377.94" width="13.22" height="75.89"/>
<rect class="i" x="90.47" y="377.94" width="13.22" height="75.89"/>
<rect class="a" x="103.39" y="377.94" width="39.07" height="75.89"/>
<rect class="d" x="142.17" y="377.94" width="13.22" height="75.89"/>
<rect class="l" x="155.09" y="377.94" width="13.22" height="75.89"/>
<rect class="h" x="168.02" y="377.94" width="13.22" height="75.89"/>
<rect class="i" x="180.94" y="377.94" width="13.22" height="75.89"/>
<rect class="g" x="193.86" y="377.94" width="13.22" height="75.89"/>
<rect class="e" x="206.79" y="377.94" width="13.22" height="75.89"/>
<rect class="m" x="219.71" y="377.94" width="13.22" height="75.89"/>
<rect class="n" x="232.64" y="377.94" width="13.22" height="75.89"/>
<rect class="j" x="245.56" y="377.94" width="13.22" height="75.89"/>
<rect class="o" x="258.48" y="377.94" width="13.22" height="75.89"/>
<rect class="n" x="271.41" y="377.94" width="13.22" height="75.89"/>
<rect class="r" x="284.33" y="377.94" width="13.22" height="75.89"/>
<rect class="l" x="297.26" y="377.94" width="13.22" height="75.89"/>
<rect class="p" x="310.18" y="377.94" width="13.22" height="75.89"/>
<rect class="n" x="323.11" y="377.94" width="13.22" height="75.89"/>
<rect class="k" x="336.03" y="377.94" width="13.22" height="75.89"/>
<rect class="n" x="348.95" y="377.94" width="13.22" height="75.89"/>
<rect class="p" x="361.88" y="377.94" width="13.22" height="75.89"/>
<rect class="g" x="374.80" y="377.94" width="13.22" height="75.89"/>
<rect class="m" x="387.73" y="377.94" width="13.22" height="75.89"/>
<rect class="l" x="400.65" y="377.94" width="13.22" height="75.89"/>
<rect class="r" x="413.58" y="377.94" width="26.15" height="75.89"/>
<rect class="j" x="439.42" y="377.94" width="13.22" height="75.89"/>
<rect class="b" x="452.35" y="377.94" width="13.22" height="75.89"/>
<rect class="f" x="465.27" y="377.94" width="26.15" height="75.89"/>
<rect class="g" x="491.12" y="377.94" width="13.22" height="75.89"/>
<rect class="f" x="504.05" y="377.94" width="13.22" height="75.89"/>
<rect class="k" x="516.97" y="377.94" width="13.22" height="75.89"/>
<rect class="h" x="529.89" y="377.94" width="13.22" height="75.89"/>
<rect class="j" x="542.82" y="377.94" width="13.22" height="75.89"/>
<rect class="c" x="555.74" y="377.94" width="13.22" height="75.89"/>
<rect class="k" x="568.67" y="377.94" width="13.22" height="75.89"/>
<rect class="c" x="581.59" y="377.94" width="26.15" height="75.89"/>
<rect class="d" x="607.44" y="377.94" width="13.22" height="75.89"/>
<rect class="h" x="620.36" y="377.94" width="13.22" height="75.89"/>
<rect class="n" x="633.29" y="377.94" width="13.22" height="75.89"/>
<rect class="k" x="646.21" y="377.94" width="13.22" height="75.89"/>
<rect class="o" x="659.14" y="377.94" width="13.22" height="75.89"/>
<rect class="l" x="672.06" y="377.94" width="13.22" height="75.89"/>
<rect class="j" x="684.98" y="377.94" width="13.22" height="75.89"/>
<rect class="m" x="697.91" y="377.94" width="26.15" height="75.89"/>
<rect class="l" x="723.76" y="377.94" width="13.22" height="75.89"/>
<rect class="e" x="736.68" y="377.94" width="13.22" height="75.89"/>
<rect class="b" x="749.61" y="377.94" width="13.22" height="75.89"/>
<rect class="c" x="762.53" y="377.94" width="13.22" height="75.89"/>
<rect class="i" x="775.45" y="377.94" width="13.22" height="75.89"/>
<rect class="n" x="788.38" y="377.94" width="13.22" height="75.89"/>
<rect class="q" x="801.30" y="377.94" width="13.22" height="75.89"/>
<rect class="l" x="814.23" y="377.94" width="13.22" height="75.89"/>
<rect class="n" x="827.15" y="377.94" width="13.22" height="75.89"/>
<rect class="h" x="840.08" y="377.94" width="13.22" height="75.89"/>
<rect class="j" x="853.00" y="377.94" width="13.22" height="75.89"/>
<rect class="i" x="865.92" y="377.94" width="13.22" height="75.89"/>
<rect class="b" x="878.85" y="377.94" width="13.22" height="75.89"/>
<rect class="l" x="891.77" y="377.94" width="13.22" height="75.89"/>
<rect class="d" x="904.70" y="377.94" width="13.22" height="75.89"/>
<rect class="l" x="917.62" y="377.94" width="13.22" height="75.89"/>
<rect class="f" x="930.55" y="377.94" width="39.07" height="75.89"/>
<rect class="g" x="969.32" y="377.94" width="13.22" height="75.89"/>
<rect class="n" x="982.24" y="377.94" width="13.22" height="75.89"/>
<rect class="a" x="995.17" y="377.94" width="39.07" height="75.89"/>
<rect class="k" x="1033.94" y="377.94" width="13.22" height="75.89"/>
<rect class="h" x="1046.86" y="377.94" width="13.22" height="75.89"/>
<rect class="f" x="1059.79" y="377.94" width="13.22" height="75.89"/>
<rect class="a" x="1072.71" y="377.94" width="13.22" height="75.89"/>
<rect class="h" x="1085.64" y="377.94" width="13.22" height="75.89"/>
<rect class="g" x="1098.56" y="377.94" width="13.22" height="75.89"/>
<rect class="k" x="1111.48" y="377.94" width="13.22" height="75.89"/>
<rect class="h" x="1124.41" y="377.94" width="13.22" height="75.89"/>
<rect class="c" x="1137.33" y="377.94" width="13.22" height="75.89"/>
<rect class="h" x="1150.26" y="377.94" width="26.15" height="75.89"/>
<rect class="a" x="1176.11" y="377.94" width="13.22" height="75.89"/>
<rect class="b" x="1189.03" y="377.94" width="13.22" height="75.89"/>
<rect class="a" x="1201.95" y="377.94" width="26.15" height="75.89"/>
<rect class="j" x="1227.80" y="377.94" width="13.22" height="75.89"/>
<rect class="g" x="1240.73" y="377.94" width="13.22" height="75.89"/>
<rect class="h" x="1253.65" y="377.94" width="13.22" height="75.89"/>
<rect class="o" x="1266.58" y="377.94" width="13.22" height="75.89"/>
<rect class="a" x="1279.50" y="377.94" width="13.22" height="75.89"/>
<rect class="i" x="1292.42" y="377.94" width="13.22" height="75.89"/>
<rect class="g" x="1305.35" y="377.94" width="13.22" height="75.89"/>
<rect class="j" x="1318.27" y="377.94" width="39.07" height="75.89"/>
<rect class="o" x="1357.05" y="377.94" width="13.22" height="75.89"/>
<rect class="i" x="1369.97" y="377.94" width="13.22" height="75.89"/>
<rect class="l" x="1382.89" y="377.94" width="13.22" height="75.89"/>
<rect class="f" x="1395.82" y="377.94" width="13.22" height="75.89"/>
<rect class="h" x="1408.74" y="377.94" width="13.22" height="75.89"/>
<rect class="j" x="1421.67" y="377.94" width="13.22" height="75.89"/>
<rect class="h" x="1434.59" y="377.94" width="13.22" height="75.89"/>
<rect class="l" x="1447.52" y="377.94" width="13.22" height="75.89"/>
<rect class="f" x="1460.44" y="377.94" width="13.22" height="75.89"/>
<rect class="h" x="1473.36" y="377.94" width="13.22" height="75.89"/>
<rect class="o" x="1486.29" y="377.94" width="13.22" height="75.89"/>
<rect class="m" x="1499.21" y="377.94" width="13.22" height="75.89"/>
<rect class="r" x="1512.14" y="377.94" width="13.22" height="75.89"/>
<rect class="l" x="1525.06" y="377.94" width="26.15" height="75.89"/>
<rect class="i" x="1550.91" y="377.94" width="26.15" height="75.89"/>
<rect class="k" x="1576.76" y="377.94" width="13.22" height="75.89"/>
<rect class="d" x="1589.68" y="377.94" width="13.22" height="75.89"/>
<rect class="g" x="1602.61" y="377.94" width="13.22" height="75.89"/>
<rect class="r" x="1615.53" y="377.94" width="13.22" height="75.89"/>
<rect class="i" x="1628.45" y="377.94" width="13.22" height="75.89"/>
<rect class="c" x="1641.38" y="377.94" width="13.22" height="75.89"/>
<rect class="d" x="1654.30" y="377.94" width="13.22" height="75.89"/>
<rect class="l" x="1667.23" y="377.94" width="13.22" height="75.89"/>
<rect class="m" x="1680.15" y="377.94" width="13.22" height="75.89"/>
<rect class="r" x="1693.08" y="377.94" width="13.22" height="75.89"/>
<rect class="c" x="0.00" y="453.53" width="13.22" height="75.89"/>
<rect class="r" x="12.92" y="453.53" width="13.22" height="75.89"/>
<rect class="j" x="25.85" y="453.53" width="13.22" height="75.89"/>
<rect class="n" x="38.77" y="453.53" width="13.22" height="75.89"/>
<rect class="r" x="51.70" y="453.53" width="13.22" height="75.89"/>
<rect class="d" x="64.62" y="453.53" width="13.22" height="75.89"/>
<rect class="l" x="77.55" y="453.53" width="13.22" height="75.89"/>
<rect class="j" x="90.47" y="453.53" width="13.22" height="75.89"/>
<rect class="a" x="103.39" y="453.53" width="26.15" height="75.89"/>
<rect class="b" x="129.24" y="453.53" width="13.22" height="75.89"/>
<rect class="g" x="142.17" y="453.53" width="13.22" height="75.89"/>
<rect class="l" x="155.09" y="453.53" width="13.22" height="75.89"/>
<rect class="e" x="168.02" y="453.53" width="13.22" height="75.89"/>
<rect class="i" x="180.94" y="453.53" width="13.22" height="75.89"/>
<rect class="f" x="193.86" y="453.53" width="26.15" height="75.89"/>
<rect class="k" x="219.71" y="453.53" width="13.22" height="75.89"/>
<rect class="r" x="232.64" y="453.53" width="13.22" height="75.89"/>
<rect class="i" x="245.56" y="453.53" width="13.22" height="75.89"/>
<rect class="r" x="258.48" y="453.53" width="13.22" height="75.89"/>
<rect class="m" x="271.41" y="453.53" width="13.22" height="75.89"/>
<rect class="r" x="284.33" y="453.53" width="13.22" height="75.89"/>
<rect class="k" x="297.26" y="453.53" width="13.22" height="75.89"/>
<rect class="r" x="310.18" y="453.53" width="13.22" height="75.89"/>
<rect class="p" x="323.11" y="453.53" width="13.22" height="75.89"/>
<rect class="j" x="336.03" y="453.53" width="13.22" height="75.89"/>
<rect class="m" x="348.95" y="453.53" width="13.22" height="75.89"/>
<rect class="p" x="361.88" y="453.53" width="13.22" height="75.89"/>
<rect class="h" x="374.80" y="453.53" width="13.22" height="75.89"/>
<rect class="n" x="387.73" y="453.53" width="13.22" height="75.89"/>
<rect class="j" x="400.65" y="453.53" width="13.22" height="75.89"/>
<rect class="r" x="413.58" y="453.53" width="26.15" height="75.89"/>
<rect class="j" x="439.42" y="453.53" width="13.22" height="75.89"/>
<rect class="b" x="452.35" y="453.53" width="13.22" height="75.89"/>
<rect class="e" x="465.27" y="453.53" width="13.22" height="75.89"/>
<rect class="d" x="478.20" y="453.53" width="13.22" height="75.89"/>
<rect class="e" x="491.12" y="453.53" width="13.22" height="75.89"/>
<rect class="f" x="504.05" y="453.53" width="13.22" height="75.89"/>
<rect class="l" x="516.97" y="453.53" width="13.22" height="75.89"/>
<rect class="k" x="529.89" y="453.53" width="13.22" height="75.89"/>
<rect class="i" x="542.82" y="453.53" width="13.22" height="75.89"/>
<rect class="a" x="555.74" y="453.53" width="13.22" height="75.89"/>
<rect class="f" x="568.67" y="453.53" width="13.22" height="75.89"/>
<rect class="c" x="581.59" y="453.53" width="26.15" height="75.89"/>
<rect class="f" x="607.44" y="453.53" width="26.15" height="75.89"/>
<rect class="p" x="633.29" y="453.53" width="13.22" height="75.89"/>
<rect class="i" x="646.21" y="453.53" width="13.22" height="75.89"/>
<rect class="k" x="659.14" y="453.53" width="26.15" height="75.89"/>
<rect class="j" x="684.98" y="453.53" width="13.22" height="75.89"/>
<rect class="l" x="697.91" y="453.53" width="26.15" height="75.89"/>
<rect class="h" x="723.76" y="453.53" width="13.22" height="75.89"/>
<rect class="g" x="736.68" y="453.53" width="13.22" height="75.89"/>
<rect class="e" x="749.61" y="453.53" width="13.22" height="75.89"/>
<rect class="c" x="762.53" y="453.53" width="13.22" height="75.89"/>
<rect class="e" x="775.45" y="453.53" width="13.22" height="75.89"/>
<rect class="m" x="788.38" y="453.53" width="13.22" height="75.89"/>
<rect class="q" x="801.30" y="453.53" width="13.22" height="75.89"/>
<rect class="m" x="814.23" y="453.53" width="13.22" height="75.89"/>
<rect class="n" x="827.15" y="453.53" width="13.22" height="75.89"/>
<rect class="f" x="840.08" y="453.53" width="13.22" height="75.89"/>
<rect class="j" x="853.00" y="453.53" width="13.22" height="75.89"/>
<rect class="k" x="865.92" y="453.53" width="13.22" height="75.89"/>
<rect class="d" x="878.85" y="453.53" width="13.22" height="75.89"/>
<rect class="l" x="891.77" y="453.53" width="13.22" height="75.89"/>
<rect class="g" x="904.70" y="453.53" width="13.22" height="75.89"/>
<rect class="n" x="917.62" y="453.53" width="13.22" height="75.89"/>
<rect class="e" x="930.55" y="453.53" width="13.22" height="75.89"/>
<rect class="g" x="943.47" y="453.53" width="13.22" height="75.89"/>
<rect class="b" x="956.39" y="453.53" width="13.22" height="75.89"/>
<rect class="d" x="969.32" y="453.53" width="13.22" height="75.89"/>
<rect class="o" x="982.24" y="453.53" width="13.22" height="75.89"/>
<rect class="a" x="995.17" y="453.53" width="39.07" height="75.89"/>
<rect class="m" x="1033.94" y="453.53" width="13.22" height="75.89"/>
<rect class="f" x="1046.86" y="453.53" width="13.22" height="75.89"/>
<rect class="e" x="1059.79" y="453.53" width="13.22" height="75.89"/>
<rect class="a" x="1072.71" y="453.53" width="13.22" height="75.89"/>
<rect class="f" x="1085.64" y="453.53" width="13.22" height="75.89"/>
<rect class="g" x="1098.56" y="453.53" width="13.22" height="75.89"/>
<rect class="j" x="1111.48" y="453.53" width="13.22" height="75.89"/>
<rect class="i" x="1124.41" y="453.53" width="13.22" height="75.89"/>
<rect class="a" x="1137.33" y="453.53" width="13.22" height="75.89"/>
<rect class="g" x="1150.26" y="453.53" width="13.22" height="75.89"/>
<rect class="h" x="1163.18" y="453.53" width="13.22" height="75.89"/>
<rect class="a" x="1176.11" y="453.53" width="52.00" height="75.89"/>
<rect class="k" x="1227.80" y="453.53" width="13.22" height="75.89"/>
<rect class="f" x="1240.73" y="453.53" width="13.22" height="75.89"/>
<rect class="i" x="1253.65" y="453.53" width="13.22" height="75.89"/>
<rect class="n" x="1266.58" y="453.53" width="13.22" height="75.89"/>
<rect class="c" x="1279.50" y="453.53" width="13.22" height="75.89"/>
<rect class="e" x="1292.42" y="453.53" width="13.22" height="75.89"/>
<rect class="g" x="1305.35" y="453.53" width="13.22" height="75.89"/>
<rect class="k" x="1318.27" y="453.53" width="13.22" height="75.89"/>
<rect class="n" x="1331.20" y="453.53" width="13.22" height="75.89"/>
<rect class="m" x="1344.12" y="453.53" width="13.22" height="75.89"/>
<rect class="r" x="1357.05" y="453.53" width="13.22" height="75.89"/>
<rect class="h" x="1369.97" y="453.53" width="13.22" height="75.89"/>
<rect class="l" x="1382.89" y="453.53" width="13.22" height="75.89"/>
<rect class="h" x="1395.82" y="453.53" width="13.22" height="75.89"/>
<rect class="f" x="1408.74" y="453.53" width="13.22" height="75.89"/>
<rect class="l" x="1421.67" y="453.53" width="13.22" height="75.89"/>
<rect class="h" x="1434.59" y="453.53" width="13.22" height="75.89"/>
<rect class="j" x="1447.52" y="453.53" width="13.22" height="75.89"/>
<rect class="f" x="1460.44" y="453.53" width="13.22" height="75.89"/>
<rect class="j" x="1473.36" y="453.53" width="13.22" height="75.89"/>
<rect class="r" x="1486.29" y="453.53" width="13.22" height="75.89"/>
<rect class="o" x="1499.21" y="453.53" width="13.22" height="75.89"/>
<rect class="r" x="1512.14" y="453.53" width="13.22" height="75.89"/>
<rect class="m" x="1525.06" y="453.53" width="13.22" height="75.89"/>
<rect class="j" x="1537.98" y="453.53" width="13.22" height="75.89"/>
<rect class="h" x="1550.91" y="453.53" width="13.22" height="75.89"/>
<rect class="i" x="1563.83" y="453.53" width="13.22" height="75.89"/>
<rect class="m" x="1576.76" y="453.53" width="13.22" height="75.89"/>
<rect class="c" x="1589.68" y="453.53" width="13.22" height="75.89"/>
<rect class="e" x="1602.61" y="453.53" width="13.22" height="75.89"/>
<rect class="r" x="1615.53" y="453.53" width="13.22" height="75.89"/>
<rect class="h" x="1628.45" y="453.53" width="13.22" height="75.89"/>
<rect class="d" x="1641.38" y="453.53" width="13.22" height="75.89"/>
<rect class="c" x="1654.30" y="453.53" width="13.22" height="75.89"/>
<rect class="g" x="1667.23" y="453.53" width="13.22" height="75.89"/>
<rect class="k" x="1680.15" y="453.53" width="13.22" height="75.89"/>
<rect class="r" x="1693.08" y="453.53" width="13.22" height="75.89"/>
<rect class="f" x="0.00" y="529.11" width="13.22" height="75.89"/>
<rect class="r" x="12.92" y="529.11" width="13.22" height="75.89"/>
<rect class="k" x="25.85" y="529.11" width="13.22" height="75.89"/>
<rect class="n" x="38.77" y="529.11" width="13.22" height="75.89"/>
<rect class="r" x="51.70" y="529.11" width="13.22" height="75.89"/>
<rect class="e" x="64.62" y="529.11" width="13.22" height="75.89"/>
<rect class="j" x="77.55" y="529.11" width="13.22" height="75.89"/>
<rect class="h" x="90.47" y="529.11" width="13.22" height="75.89"/>
<rect class="a" x="103.39" y="529.11" width="13.22" height="75.89"/>
<rect class="g" x="116.32" y="529.11" width="13.22" height="75.89"/>
<rect class="h" x="129.24" y="529.11" width="26.15" height="75.89"/>
<rect class="i" x="155.09" y="529.11" width="13.22" height="75.89"/>
<rect class="b" x="168.02" y="529.11" width="13.22" height="75.89"/>
<rect class="f" x="180.94" y="529.11" width="13.22" height="75.89"/>
<rect class="b" x="193.86" y="529.11" width="13.22" height="75.89"/>
<rect class="c" x="206.79" y="529.11" width="13.22" height="75.89"/>
<rect class="i" x="219.71" y="529.11" width="13.22" height="75.89"/>
<rect class="r" x="232.64" y="529.11" width="13.22" height="75.89"/>
<rect class="n" x="245.56" y="529.11" width="13.22" height="75.89"/>
<rect class="p" x="258.48" y="529.11" width="13.22" height="75.89"/>
<rect class="i" x="271.41" y="529.11" width="13.22" height="75.89"/>
<rect class="p" x="284.33" y="529.11" width="13.22" height="75.89"/>
<rect class="g" x="297.26" y="529.11" width="13.22" height="75.89"/>
<rect class="r" x="310.18" y="529.11" width="13.22" height="75.89"/>
<rect class="n" x="323.11" y="529.11" width="13.22" height="75.89"/>
<rect class="g" x="336.03" y="529.11" width="13.22" height="75.89"/>
<rect class="q" x="348.95" y="529.11" width="13.22" height="75.89"/>
<rect class="r" x="361.88" y="529.11" width="13.22" height="75.89"/>
<rect class="e" x="374.80" y="529.11" width="13.22" height="75.89"/>
<rect class="r" x="387.73" y="529.11" width="13.22" height="75.89"/>
<rect class="p" x="400.65" y="529.11" width="13.22" height="75.89"/>
<rect class="q" x="413.58" y="529.11" width="13.22" height="75.89"/>
<rect class="o" x="426.50" y="529.11" width="13.22" height="75.89"/>
<rect class="h" x="439.42" y="529.11" width="26.15" height="75.89"/>
<rect class="d" x="465.27" y="529.11" width="13.22" height="75.89"/>
<rect class="c" x="478.20" y="529.11" width="13.22" height="75.89"/>
<rect class="j" x="491.12" y="529.11" width="13.22" height="75.89"/>
<rect class="k" x="504.05" y="529.11" width="13.22" height="75.89"/>
<rect class="i" x="516.97" y="529.11" width="26.15" height="75.89"/>
<rect class="h" x="542.82" y="529.11" width="13.22" height="75.89"/>
<rect class="a" x="555.74" y="529.11" width="13.22" height="75.89"/>
<rect class="k" x="568.67" y="529.11" width="13.22" height="75.89"/>
<rect class="e" x="581.59" y="529.11" width="13.22" height="75.89"/>
<rect class="d" x="594.52" y="529.11" width="13.22" height="75.89"/>
<rect class="i" x="607.44" y="529.11" width="13.22" height="75.89"/>
<rect class="d" x="620.36" y="529.11" width="13.22" height="75.89"/>
<rect class="n" x="633.29" y="529.11" width="13.22" height="75.89"/>
<rect class="e" x="646.21" y="529.11" width="13.22" height="75.89"/>
<rect class="j" x="659.14" y="529.11" width="26.15" height="75.89"/>
<rect class="d" x="684.98" y="529.11" width="13.22" height="75.89"/>
<rect class="l" x="697.91" y="529.11" width="26.15" height="75.89"/>
<rect class="d" x="723.76" y="529.11" width="13.22" height="75.89"/>
<rect class="i" x="736.68" y="529.11" width="13.22" height="75.89"/>
<rect class="a" x="749.61" y="529.11" width="13.22" height="75.89"/>
<rect class="b" x="762.53" y="529.11" width="26.15" height="75.89"/>
<rect class="q" x="788.38" y="529.11" width="13.22" height="75.89"/>
<rect class="r" x="801.30" y="529.11" width="13.22" height="75.89"/>
<rect class="m" x="814.23" y="529.11" width="13.22" height="75.89"/>
<rect class="h" x="827.15" y="529.11" width="13.22" height="75.89"/>
<rect class="c" x="840.08" y="529.11" width="13.22" height="75.89"/>
<rect class="g" x="853.00" y="529.11" width="13.22" height="75.89"/>
<rect class="h" x="865.92" y="529.11" width="26.15" height="75.89"/>
<rect class="j" x="891.77" y="529.11" width="13.22" height="75.89"/>
<rect class="f" x="904.70" y="529.11" width="13.22" height="75.89"/>
<rect class="l" x="917.62" y="529.11" width="13.22" height="75.89"/>
<rect class="d" x="930.55" y="529.11" width="13.22" height="75.89"/>
<rect class="g" x="943.47" y="529.11" width="13.22" height="75.89"/>
<rect class="j" x="956.39" y="529.11" width="13.22" height="75.89"/>
<rect class="o" x="969.32" y="529.11" width="26.15" height="75.89"/>
<rect class="f" x="995.17" y="529.11" width="13.22" height="75.89"/>
<rect class="a" x="1008.09" y="529.11" width="26.15" height="75.89"/>
<rect class="q" x="1033.94" y="529.11" width="13.22" height="75.89"/>
<rect class="k" x="1046.86" y="529.11" width="13.22" height="75.89"/>
<rect class="h" x="1059.79" y="529.11" width="13.22" height="75.89"/>
<rect class="f" x="1072.71" y="529.11" width="13.22" height="75.89"/>
<rect class="d" x="1085.64" y="529.11" width="13.22" height="75.89"/>
<rect class="c" x="1098.56" y="529.11" width="13.22" height="75.89"/>
<rect class="f" x="1111.48" y="529.11" width="13.22" height="75.89"/>
<rect class="a" x="1124.41" y="529.11" width="13.22" height="75.89"/>
<rect class="f" x="1137.33" y="529.11" width="26.15" height="75.89"/>
<rect class="e" x="1163.18" y="529.11" width="13.22" height="75.89"/>
<rect class="a" x="1176.11" y="529.11" width="26.15" height="75.89"/>
<rect class="f" x="1201.95" y="529.11" width="13.22" height="75.89"/>
<rect class="a" x="1214.88" y="529.11" width="13.22" height="75.89"/>
<rect class="h" x="1227.80" y="529.11" width="13.22" height="75.89"/>
<rect class="g" x="1240.73" y="529.11" width="13.22" height="75.89"/>
<rect class="f" x="1253.65" y="529.11" width="13.22" height="75.89"/>
<rect class="p" x="1266.58" y="529.11" width="13.22" height="75.89"/>
<rect class="g" x="1279.50" y="529.11" width="13.22" height="75.89"/>
<rect class="f" x="1292.42" y="529.11" width="13.22" height="75.89"/>
<rect class="h" x="1305.35" y="529.11" width="13.22" height="75.89"/>
<rect class="i" x="1318.27" y="529.11" width="13.22" height="75.89"/>
<rect class="n" x="1331.20" y="529.11" width="13.22" height="75.89"/>
<rect class="l" x="1344.12" y="529.11" width="13.22" height="75.89"/>
<rect class="m" x="1357.05" y="529.11" width="13.22" height="75.89"/>
<rect class="j" x="1369.97" y="529.11" width="13.22" height="75.89"/>
<rect class="f" x="1382.89" y="529.11" width="13.22" height="75.89"/>
<rect class="j" x="1395.82" y="529.11" width="13.22" height="75.89"/>
<rect class="i" x="1408.74" y="529.11" width="13.22" height="75.89"/>
<rect class="l" x="1421.67" y="529.11" width="13.22" height="75.89"/>
<rect class="d" x="1434.59" y="529.11" width="13.22" height="75.89"/>
<rect class="k" x="1447.52" y="529.11" width="13.22" height="75.89"/>
<rect class="f" x="1460.44" y="529.11" width="13.22" height="75.89"/>
<rect class="p" x="1473.36" y="529.11" width="13.22" height="75.89"/>
<rect class="r" x="1486.29" y="529.11" width="13.22" height="75.89"/>
<rect class="q" x="1499.21" y="529.11" width="13.22" height="75.89"/>
<rect class="l" x="1512.14" y="529.11" width="13.22" height="75.89"/>
<rect class="m" x="1525.06" y="529.11" width="13.22" height="75.89"/>
<rect class="i" x="1537.98" y="529.11" width="13.22" height="75.89"/>
<rect class="h" x="1550.91" y="529.11" width="13.22" height="75.89"/>
<rect class="i" x="1563.83" y="529.11" width="13.22" height="75.89"/>
<rect class="l" x="1576.76" y="529.11" width="13.22" height="75.89"/>
<rect class="a" x="1589.68" y="529.11" width="13.22" height="75.89"/>
<rect class="f" x="1602.61" y="529.11" width="13.22" height="75.89"/>
<rect class="r" x="1615.53" y="529.11" width="13.22" height="75.89"/>
<rect class="g" x="1628.45" y="529.11" width="13.22" height="75.89"/>
<rect class="e" x="1641.38" y="529.11" width="13.22" height="75.89"/>
<rect class="c" x="1654.30" y="529.11" width="13.22" height="75.89"/>
<rect class="f" x="1667.23" y="529.11" width="13.22" height="75.89"/>
<rect class="i" x="1680.15" y="529.11" width="13.22" height="75.89"/>
<rect class="r" x="1693.08" y="529.11" width="13.22" height="75.89"/>
<rect x="0" y="86.70" width="1706.0" height="1.2" fill="rgba(235,235,235,0.16)"/>
<rect x="0" y="210.50" width="1706.0" height="1.2" fill="rgba(235,235,235,0.16)"/>
<rect x="0" y="332.70" width="1706.0" height="1.2" fill="rgba(235,235,235,0.16)"/>
<rect x="0" y="455.70" width="1706.0" height="1.2" fill="rgba(235,235,235,0.16)"/>
<rect x="0" y="579.00" width="1706.0" height="1.2" fill="rgba(235,235,235,0.16)"/>
<rect x="73.75" y="0" width="6.0" height="604.70" fill="rgba(0,0,0,0.72)"/>
<rect x="151.29" y="0" width="6.0" height="604.70" fill="rgba(0,0,0,0.72)"/>
<rect x="228.84" y="0" width="6.0" height="604.70" fill="rgba(0,0,0,0.72)"/>
<rect x="306.38" y="0" width="6.0" height="604.70" fill="rgba(0,0,0,0.72)"/>
<rect x="383.93" y="0" width="6.0" height="604.70" fill="rgba(0,0,0,0.72)"/>
<rect x="461.47" y="0" width="6.0" height="604.70" fill="rgba(0,0,0,0.72)"/>
<rect x="539.02" y="0" width="6.0" height="604.70" fill="rgba(0,0,0,0.72)"/>
<rect x="616.56" y="0" width="6.0" height="604.70" fill="rgba(0,0,0,0.72)"/>
<rect x="694.11" y="0" width="6.0" height="604.70" fill="rgba(0,0,0,0.72)"/>
<rect x="771.65" y="0" width="6.0" height="604.70" fill="rgba(0,0,0,0.72)"/>
<rect x="849.20" y="0" width="6.0" height="604.70" fill="rgba(0,0,0,0.72)"/>
<rect x="926.75" y="0" width="6.0" height="604.70" fill="rgba(0,0,0,0.72)"/>
<rect x="1004.29" y="0" width="6.0" height="604.70" fill="rgba(0,0,0,0.72)"/>
<rect x="1081.84" y="0" width="6.0" height="604.70" fill="rgba(0,0,0,0.72)"/>
<rect x="1159.38" y="0" width="6.0" height="604.70" fill="rgba(0,0,0,0.72)"/>
<rect x="1236.93" y="0" width="6.0" height="604.70" fill="rgba(0,0,0,0.72)"/>
<rect x="1314.47" y="0" width="6.0" height="604.70" fill="rgba(0,0,0,0.72)"/>
<rect x="1392.02" y="0" width="6.0" height="604.70" fill="rgba(0,0,0,0.72)"/>
<rect x="1469.56" y="0" width="6.0" height="604.70" fill="rgba(0,0,0,0.72)"/>
<rect x="1547.11" y="0" width="6.0" height="604.70" fill="rgba(0,0,0,0.72)"/>
<rect x="1624.65" y="0" width="6.0" height="604.70" fill="rgba(0,0,0,0.72)"/>
</svg>
<div class="box" style="left:153.5px;top:65.30px;width:1706.0px;height:604.70px"></div>
<svg class="hm" style="left:154.5px;top:819.5px" width="1706.0" height="614.10" viewBox="0 0 1706.0 614.10" shape-rendering="crispEdges">
<rect class="b" x="0.00" y="0.00" width="13.22" height="77.06"/>
<rect class="l" x="12.92" y="0.00" width="13.22" height="77.06"/>
<rect class="f" x="25.85" y="0.00" width="13.22" height="77.06"/>
<rect class="i" x="38.77" y="0.00" width="13.22" height="77.06"/>
<rect class="q" x="51.70" y="0.00" width="13.22" height="77.06"/>
<rect class="c" x="64.62" y="0.00" width="13.22" height="77.06"/>
<rect class="l" x="77.55" y="0.00" width="13.22" height="77.06"/>
<rect class="g" x="90.47" y="0.00" width="13.22" height="77.06"/>
<rect class="r" x="103.39" y="0.00" width="13.22" height="77.06"/>
<rect class="j" x="116.32" y="0.00" width="13.22" height="77.06"/>
<rect class="i" x="129.24" y="0.00" width="13.22" height="77.06"/>
<rect class="h" x="142.17" y="0.00" width="13.22" height="77.06"/>
<rect class="l" x="155.09" y="0.00" width="13.22" height="77.06"/>
<rect class="g" x="168.02" y="0.00" width="39.07" height="77.06"/>
<rect class="f" x="206.79" y="0.00" width="13.22" height="77.06"/>
<rect class="d" x="219.71" y="0.00" width="13.22" height="77.06"/>
<rect class="l" x="232.64" y="0.00" width="13.22" height="77.06"/>
<rect class="j" x="245.56" y="0.00" width="13.22" height="77.06"/>
<rect class="k" x="258.48" y="0.00" width="13.22" height="77.06"/>
<rect class="n" x="271.41" y="0.00" width="13.22" height="77.06"/>
<rect class="l" x="284.33" y="0.00" width="13.22" height="77.06"/>
<rect class="r" x="297.26" y="0.00" width="26.15" height="77.06"/>
<rect class="j" x="323.11" y="0.00" width="26.15" height="77.06"/>
<rect class="k" x="348.95" y="0.00" width="13.22" height="77.06"/>
<rect class="i" x="361.88" y="0.00" width="13.22" height="77.06"/>
<rect class="m" x="374.80" y="0.00" width="13.22" height="77.06"/>
<rect class="n" x="387.73" y="0.00" width="13.22" height="77.06"/>
<rect class="h" x="400.65" y="0.00" width="13.22" height="77.06"/>
<rect class="l" x="413.58" y="0.00" width="13.22" height="77.06"/>
<rect class="g" x="426.50" y="0.00" width="13.22" height="77.06"/>
<rect class="j" x="439.42" y="0.00" width="13.22" height="77.06"/>
<rect class="a" x="452.35" y="0.00" width="13.22" height="77.06"/>
<rect class="c" x="465.27" y="0.00" width="13.22" height="77.06"/>
<rect class="i" x="478.20" y="0.00" width="13.22" height="77.06"/>
<rect class="f" x="491.12" y="0.00" width="13.22" height="77.06"/>
<rect class="e" x="504.05" y="0.00" width="13.22" height="77.06"/>
<rect class="g" x="516.97" y="0.00" width="13.22" height="77.06"/>
<rect class="j" x="529.89" y="0.00" width="13.22" height="77.06"/>
<rect class="k" x="542.82" y="0.00" width="26.15" height="77.06"/>
<rect class="j" x="568.67" y="0.00" width="13.22" height="77.06"/>
<rect class="g" x="581.59" y="0.00" width="13.22" height="77.06"/>
<rect class="f" x="594.52" y="0.00" width="13.22" height="77.06"/>
<rect class="a" x="607.44" y="0.00" width="13.22" height="77.06"/>
<rect class="h" x="620.36" y="0.00" width="13.22" height="77.06"/>
<rect class="m" x="633.29" y="0.00" width="13.22" height="77.06"/>
<rect class="j" x="646.21" y="0.00" width="26.15" height="77.06"/>
<rect class="k" x="672.06" y="0.00" width="13.22" height="77.06"/>
<rect class="l" x="684.98" y="0.00" width="13.22" height="77.06"/>
<rect class="n" x="697.91" y="0.00" width="13.22" height="77.06"/>
<rect class="m" x="710.83" y="0.00" width="26.15" height="77.06"/>
<rect class="c" x="736.68" y="0.00" width="13.22" height="77.06"/>
<rect class="p" x="749.61" y="0.00" width="13.22" height="77.06"/>
<rect class="n" x="762.53" y="0.00" width="13.22" height="77.06"/>
<rect class="j" x="775.45" y="0.00" width="13.22" height="77.06"/>
<rect class="l" x="788.38" y="0.00" width="13.22" height="77.06"/>
<rect class="h" x="801.30" y="0.00" width="13.22" height="77.06"/>
<rect class="l" x="814.23" y="0.00" width="13.22" height="77.06"/>
<rect class="h" x="827.15" y="0.00" width="13.22" height="77.06"/>
<rect class="b" x="840.08" y="0.00" width="13.22" height="77.06"/>
<rect class="l" x="853.00" y="0.00" width="13.22" height="77.06"/>
<rect class="k" x="865.92" y="0.00" width="13.22" height="77.06"/>
<rect class="d" x="878.85" y="0.00" width="13.22" height="77.06"/>
<rect class="i" x="891.77" y="0.00" width="13.22" height="77.06"/>
<rect class="f" x="904.70" y="0.00" width="13.22" height="77.06"/>
<rect class="k" x="917.62" y="0.00" width="13.22" height="77.06"/>
<rect class="d" x="930.55" y="0.00" width="13.22" height="77.06"/>
<rect class="f" x="943.47" y="0.00" width="13.22" height="77.06"/>
<rect class="h" x="956.39" y="0.00" width="13.22" height="77.06"/>
<rect class="f" x="969.32" y="0.00" width="13.22" height="77.06"/>
<rect class="i" x="982.24" y="0.00" width="13.22" height="77.06"/>
<rect class="a" x="995.17" y="0.00" width="26.15" height="77.06"/>
<rect class="e" x="1021.02" y="0.00" width="13.22" height="77.06"/>
<rect class="c" x="1033.94" y="0.00" width="13.22" height="77.06"/>
<rect class="g" x="1046.86" y="0.00" width="26.15" height="77.06"/>
<rect class="a" x="1072.71" y="0.00" width="13.22" height="77.06"/>
<rect class="i" x="1085.64" y="0.00" width="13.22" height="77.06"/>
<rect class="g" x="1098.56" y="0.00" width="13.22" height="77.06"/>
<rect class="i" x="1111.48" y="0.00" width="13.22" height="77.06"/>
<rect class="q" x="1124.41" y="0.00" width="13.22" height="77.06"/>
<rect class="e" x="1137.33" y="0.00" width="13.22" height="77.06"/>
<rect class="l" x="1150.26" y="0.00" width="13.22" height="77.06"/>
<rect class="h" x="1163.18" y="0.00" width="13.22" height="77.06"/>
<rect class="g" x="1176.11" y="0.00" width="13.22" height="77.06"/>
<rect class="b" x="1189.03" y="0.00" width="13.22" height="77.06"/>
<rect class="d" x="1201.95" y="0.00" width="13.22" height="77.06"/>
<rect class="k" x="1214.88" y="0.00" width="13.22" height="77.06"/>
<rect class="l" x="1227.80" y="0.00" width="13.22" height="77.06"/>
<rect class="c" x="1240.73" y="0.00" width="13.22" height="77.06"/>
<rect class="i" x="1253.65" y="0.00" width="13.22" height="77.06"/>
<rect class="j" x="1266.58" y="0.00" width="13.22" height="77.06"/>
<rect class="f" x="1279.50" y="0.00" width="13.22" height="77.06"/>
<rect class="d" x="1292.42" y="0.00" width="26.15" height="77.06"/>
<rect class="e" x="1318.27" y="0.00" width="13.22" height="77.06"/>
<rect class="m" x="1331.20" y="0.00" width="13.22" height="77.06"/>
<rect class="i" x="1344.12" y="0.00" width="13.22" height="77.06"/>
<rect class="m" x="1357.05" y="0.00" width="13.22" height="77.06"/>
<rect class="j" x="1369.97" y="0.00" width="13.22" height="77.06"/>
<rect class="i" x="1382.89" y="0.00" width="13.22" height="77.06"/>
<rect class="g" x="1395.82" y="0.00" width="13.22" height="77.06"/>
<rect class="e" x="1408.74" y="0.00" width="13.22" height="77.06"/>
<rect class="h" x="1421.67" y="0.00" width="13.22" height="77.06"/>
<rect class="l" x="1434.59" y="0.00" width="13.22" height="77.06"/>
<rect class="c" x="1447.52" y="0.00" width="13.22" height="77.06"/>
<rect class="h" x="1460.44" y="0.00" width="13.22" height="77.06"/>
<rect class="k" x="1473.36" y="0.00" width="13.22" height="77.06"/>
<rect class="j" x="1486.29" y="0.00" width="13.22" height="77.06"/>
<rect class="f" x="1499.21" y="0.00" width="13.22" height="77.06"/>
<rect class="k" x="1512.14" y="0.00" width="13.22" height="77.06"/>
<rect class="n" x="1525.06" y="0.00" width="13.22" height="77.06"/>
<rect class="j" x="1537.98" y="0.00" width="13.22" height="77.06"/>
<rect class="e" x="1550.91" y="0.00" width="13.22" height="77.06"/>
<rect class="f" x="1563.83" y="0.00" width="13.22" height="77.06"/>
<rect class="j" x="1576.76" y="0.00" width="13.22" height="77.06"/>
<rect class="k" x="1589.68" y="0.00" width="13.22" height="77.06"/>
<rect class="e" x="1602.61" y="0.00" width="13.22" height="77.06"/>
<rect class="r" x="1615.53" y="0.00" width="13.22" height="77.06"/>
<rect class="e" x="1628.45" y="0.00" width="13.22" height="77.06"/>
<rect class="h" x="1641.38" y="0.00" width="13.22" height="77.06"/>
<rect class="f" x="1654.30" y="0.00" width="13.22" height="77.06"/>
<rect class="g" x="1667.23" y="0.00" width="13.22" height="77.06"/>
<rect class="k" x="1680.15" y="0.00" width="13.22" height="77.06"/>
<rect class="r" x="1693.08" y="0.00" width="13.22" height="77.06"/>
<rect class="f" x="0.00" y="76.76" width="13.22" height="77.06"/>
<rect class="l" x="12.92" y="76.76" width="13.22" height="77.06"/>
<rect class="f" x="25.85" y="76.76" width="13.22" height="77.06"/>
<rect class="i" x="38.77" y="76.76" width="13.22" height="77.06"/>
<rect class="q" x="51.70" y="76.76" width="13.22" height="77.06"/>
<rect class="a" x="64.62" y="76.76" width="13.22" height="77.06"/>
<rect class="k" x="77.55" y="76.76" width="13.22" height="77.06"/>
<rect class="g" x="90.47" y="76.76" width="13.22" height="77.06"/>
<rect class="r" x="103.39" y="76.76" width="13.22" height="77.06"/>
<rect class="j" x="116.32" y="76.76" width="13.22" height="77.06"/>
<rect class="e" x="129.24" y="76.76" width="13.22" height="77.06"/>
<rect class="i" x="142.17" y="76.76" width="26.15" height="77.06"/>
<rect class="h" x="168.02" y="76.76" width="13.22" height="77.06"/>
<rect class="g" x="180.94" y="76.76" width="26.15" height="77.06"/>
<rect class="e" x="206.79" y="76.76" width="13.22" height="77.06"/>
<rect class="h" x="219.71" y="76.76" width="13.22" height="77.06"/>
<rect class="p" x="232.64" y="76.76" width="13.22" height="77.06"/>
<rect class="l" x="245.56" y="76.76" width="13.22" height="77.06"/>
<rect class="j" x="258.48" y="76.76" width="13.22" height="77.06"/>
<rect class="k" x="271.41" y="76.76" width="26.15" height="77.06"/>
<rect class="r" x="297.26" y="76.76" width="26.15" height="77.06"/>
<rect class="l" x="323.11" y="76.76" width="13.22" height="77.06"/>
<rect class="h" x="336.03" y="76.76" width="13.22" height="77.06"/>
<rect class="k" x="348.95" y="76.76" width="13.22" height="77.06"/>
<rect class="j" x="361.88" y="76.76" width="13.22" height="77.06"/>
<rect class="l" x="374.80" y="76.76" width="13.22" height="77.06"/>
<rect class="n" x="387.73" y="76.76" width="13.22" height="77.06"/>
<rect class="i" x="400.65" y="76.76" width="13.22" height="77.06"/>
<rect class="l" x="413.58" y="76.76" width="13.22" height="77.06"/>
<rect class="g" x="426.50" y="76.76" width="13.22" height="77.06"/>
<rect class="o" x="439.42" y="76.76" width="13.22" height="77.06"/>
<rect class="a" x="452.35" y="76.76" width="13.22" height="77.06"/>
<rect class="e" x="465.27" y="76.76" width="13.22" height="77.06"/>
<rect class="i" x="478.20" y="76.76" width="13.22" height="77.06"/>
<rect class="g" x="491.12" y="76.76" width="26.15" height="77.06"/>
<rect class="j" x="516.97" y="76.76" width="13.22" height="77.06"/>
<rect class="h" x="529.89" y="76.76" width="39.07" height="77.06"/>
<rect class="j" x="568.67" y="76.76" width="13.22" height="77.06"/>
<rect class="h" x="581.59" y="76.76" width="13.22" height="77.06"/>
<rect class="g" x="594.52" y="76.76" width="13.22" height="77.06"/>
<rect class="a" x="607.44" y="76.76" width="13.22" height="77.06"/>
<rect class="f" x="620.36" y="76.76" width="13.22" height="77.06"/>
<rect class="m" x="633.29" y="76.76" width="13.22" height="77.06"/>
<rect class="j" x="646.21" y="76.76" width="26.15" height="77.06"/>
<rect class="h" x="672.06" y="76.76" width="13.22" height="77.06"/>
<rect class="q" x="684.98" y="76.76" width="13.22" height="77.06"/>
<rect class="o" x="697.91" y="76.76" width="13.22" height="77.06"/>
<rect class="m" x="710.83" y="76.76" width="13.22" height="77.06"/>
<rect class="g" x="723.76" y="76.76" width="13.22" height="77.06"/>
<rect class="c" x="736.68" y="76.76" width="13.22" height="77.06"/>
<rect class="o" x="749.61" y="76.76" width="13.22" height="77.06"/>
<rect class="g" x="762.53" y="76.76" width="26.15" height="77.06"/>
<rect class="l" x="788.38" y="76.76" width="13.22" height="77.06"/>
<rect class="i" x="801.30" y="76.76" width="13.22" height="77.06"/>
<rect class="l" x="814.23" y="76.76" width="13.22" height="77.06"/>
<rect class="g" x="827.15" y="76.76" width="26.15" height="77.06"/>
<rect class="m" x="853.00" y="76.76" width="13.22" height="77.06"/>
<rect class="i" x="865.92" y="76.76" width="13.22" height="77.06"/>
<rect class="f" x="878.85" y="76.76" width="13.22" height="77.06"/>
<rect class="j" x="891.77" y="76.76" width="13.22" height="77.06"/>
<rect class="h" x="904.70" y="76.76" width="13.22" height="77.06"/>
<rect class="i" x="917.62" y="76.76" width="13.22" height="77.06"/>
<rect class="d" x="930.55" y="76.76" width="13.22" height="77.06"/>
<rect class="h" x="943.47" y="76.76" width="26.15" height="77.06"/>
<rect class="f" x="969.32" y="76.76" width="13.22" height="77.06"/>
<rect class="h" x="982.24" y="76.76" width="13.22" height="77.06"/>
<rect class="a" x="995.17" y="76.76" width="13.22" height="77.06"/>
<rect class="b" x="1008.09" y="76.76" width="13.22" height="77.06"/>
<rect class="e" x="1021.02" y="76.76" width="26.15" height="77.06"/>
<rect class="g" x="1046.86" y="76.76" width="13.22" height="77.06"/>
<rect class="d" x="1059.79" y="76.76" width="13.22" height="77.06"/>
<rect class="a" x="1072.71" y="76.76" width="13.22" height="77.06"/>
<rect class="g" x="1085.64" y="76.76" width="13.22" height="77.06"/>
<rect class="f" x="1098.56" y="76.76" width="13.22" height="77.06"/>
<rect class="h" x="1111.48" y="76.76" width="13.22" height="77.06"/>
<rect class="q" x="1124.41" y="76.76" width="13.22" height="77.06"/>
<rect class="e" x="1137.33" y="76.76" width="13.22" height="77.06"/>
<rect class="n" x="1150.26" y="76.76" width="13.22" height="77.06"/>
<rect class="e" x="1163.18" y="76.76" width="26.15" height="77.06"/>
<rect class="c" x="1189.03" y="76.76" width="13.22" height="77.06"/>
<rect class="e" x="1201.95" y="76.76" width="13.22" height="77.06"/>
<rect class="h" x="1214.88" y="76.76" width="13.22" height="77.06"/>
<rect class="l" x="1227.80" y="76.76" width="13.22" height="77.06"/>
<rect class="c" x="1240.73" y="76.76" width="13.22" height="77.06"/>
<rect class="g" x="1253.65" y="76.76" width="13.22" height="77.06"/>
<rect class="j" x="1266.58" y="76.76" width="13.22" height="77.06"/>
<rect class="g" x="1279.50" y="76.76" width="13.22" height="77.06"/>
<rect class="f" x="1292.42" y="76.76" width="26.15" height="77.06"/>
<rect class="e" x="1318.27" y="76.76" width="13.22" height="77.06"/>
<rect class="m" x="1331.20" y="76.76" width="13.22" height="77.06"/>
<rect class="e" x="1344.12" y="76.76" width="13.22" height="77.06"/>
<rect class="l" x="1357.05" y="76.76" width="13.22" height="77.06"/>
<rect class="h" x="1369.97" y="76.76" width="26.15" height="77.06"/>
<rect class="g" x="1395.82" y="76.76" width="13.22" height="77.06"/>
<rect class="d" x="1408.74" y="76.76" width="13.22" height="77.06"/>
<rect class="h" x="1421.67" y="76.76" width="13.22" height="77.06"/>
<rect class="j" x="1434.59" y="76.76" width="13.22" height="77.06"/>
<rect class="c" x="1447.52" y="76.76" width="13.22" height="77.06"/>
<rect class="g" x="1460.44" y="76.76" width="13.22" height="77.06"/>
<rect class="k" x="1473.36" y="76.76" width="13.22" height="77.06"/>
<rect class="j" x="1486.29" y="76.76" width="13.22" height="77.06"/>
<rect class="k" x="1499.21" y="76.76" width="13.22" height="77.06"/>
<rect class="m" x="1512.14" y="76.76" width="26.15" height="77.06"/>
<rect class="i" x="1537.98" y="76.76" width="13.22" height="77.06"/>
<rect class="f" x="1550.91" y="76.76" width="13.22" height="77.06"/>
<rect class="h" x="1563.83" y="76.76" width="13.22" height="77.06"/>
<rect class="j" x="1576.76" y="76.76" width="13.22" height="77.06"/>
<rect class="g" x="1589.68" y="76.76" width="13.22" height="77.06"/>
<rect class="j" x="1602.61" y="76.76" width="13.22" height="77.06"/>
<rect class="r" x="1615.53" y="76.76" width="13.22" height="77.06"/>
<rect class="f" x="1628.45" y="76.76" width="13.22" height="77.06"/>
<rect class="g" x="1641.38" y="76.76" width="13.22" height="77.06"/>
<rect class="e" x="1654.30" y="76.76" width="13.22" height="77.06"/>
<rect class="i" x="1667.23" y="76.76" width="13.22" height="77.06"/>
<rect class="l" x="1680.15" y="76.76" width="13.22" height="77.06"/>
<rect class="r" x="1693.08" y="76.76" width="13.22" height="77.06"/>
<rect class="f" x="0.00" y="153.52" width="13.22" height="77.06"/>
<rect class="l" x="12.92" y="153.52" width="13.22" height="77.06"/>
<rect class="f" x="25.85" y="153.52" width="13.22" height="77.06"/>
<rect class="h" x="38.77" y="153.52" width="13.22" height="77.06"/>
<rect class="q" x="51.70" y="153.52" width="13.22" height="77.06"/>
<rect class="a" x="64.62" y="153.52" width="13.22" height="77.06"/>
<rect class="l" x="77.55" y="153.52" width="13.22" height="77.06"/>
<rect class="g" x="90.47" y="153.52" width="13.22" height="77.06"/>
<rect class="r" x="103.39" y="153.52" width="13.22" height="77.06"/>
<rect class="i" x="116.32" y="153.52" width="13.22" height="77.06"/>
<rect class="b" x="129.24" y="153.52" width="13.22" height="77.06"/>
<rect class="k" x="142.17" y="153.52" width="13.22" height="77.06"/>
<rect class="h" x="155.09" y="153.52" width="26.15" height="77.06"/>
<rect class="g" x="180.94" y="153.52" width="13.22" height="77.06"/>
<rect class="i" x="193.86" y="153.52" width="13.22" height="77.06"/>
<rect class="e" x="206.79" y="153.52" width="13.22" height="77.06"/>
<rect class="g" x="219.71" y="153.52" width="13.22" height="77.06"/>
<rect class="q" x="232.64" y="153.52" width="13.22" height="77.06"/>
<rect class="k" x="245.56" y="153.52" width="13.22" height="77.06"/>
<rect class="j" x="258.48" y="153.52" width="13.22" height="77.06"/>
<rect class="k" x="271.41" y="153.52" width="13.22" height="77.06"/>
<rect class="m" x="284.33" y="153.52" width="13.22" height="77.06"/>
<rect class="r" x="297.26" y="153.52" width="26.15" height="77.06"/>
<rect class="l" x="323.11" y="153.52" width="13.22" height="77.06"/>
<rect class="h" x="336.03" y="153.52" width="13.22" height="77.06"/>
<rect class="l" x="348.95" y="153.52" width="26.15" height="77.06"/>
<rect class="j" x="374.80" y="153.52" width="13.22" height="77.06"/>
<rect class="n" x="387.73" y="153.52" width="13.22" height="77.06"/>
<rect class="h" x="400.65" y="153.52" width="13.22" height="77.06"/>
<rect class="m" x="413.58" y="153.52" width="13.22" height="77.06"/>
<rect class="h" x="426.50" y="153.52" width="13.22" height="77.06"/>
<rect class="q" x="439.42" y="153.52" width="13.22" height="77.06"/>
<rect class="a" x="452.35" y="153.52" width="13.22" height="77.06"/>
<rect class="d" x="465.27" y="153.52" width="13.22" height="77.06"/>
<rect class="i" x="478.20" y="153.52" width="13.22" height="77.06"/>
<rect class="h" x="491.12" y="153.52" width="13.22" height="77.06"/>
<rect class="g" x="504.05" y="153.52" width="13.22" height="77.06"/>
<rect class="j" x="516.97" y="153.52" width="13.22" height="77.06"/>
<rect class="h" x="529.89" y="153.52" width="26.15" height="77.06"/>
<rect class="i" x="555.74" y="153.52" width="13.22" height="77.06"/>
<rect class="j" x="568.67" y="153.52" width="13.22" height="77.06"/>
<rect class="g" x="581.59" y="153.52" width="13.22" height="77.06"/>
<rect class="e" x="594.52" y="153.52" width="13.22" height="77.06"/>
<rect class="a" x="607.44" y="153.52" width="13.22" height="77.06"/>
<rect class="f" x="620.36" y="153.52" width="13.22" height="77.06"/>
<rect class="m" x="633.29" y="153.52" width="13.22" height="77.06"/>
<rect class="k" x="646.21" y="153.52" width="26.15" height="77.06"/>
<rect class="l" x="672.06" y="153.52" width="13.22" height="77.06"/>
<rect class="r" x="684.98" y="153.52" width="13.22" height="77.06"/>
<rect class="p" x="697.91" y="153.52" width="13.22" height="77.06"/>
<rect class="m" x="710.83" y="153.52" width="13.22" height="77.06"/>
<rect class="g" x="723.76" y="153.52" width="13.22" height="77.06"/>
<rect class="d" x="736.68" y="153.52" width="13.22" height="77.06"/>
<rect class="n" x="749.61" y="153.52" width="13.22" height="77.06"/>
<rect class="f" x="762.53" y="153.52" width="13.22" height="77.06"/>
<rect class="j" x="775.45" y="153.52" width="13.22" height="77.06"/>
<rect class="l" x="788.38" y="153.52" width="13.22" height="77.06"/>
<rect class="i" x="801.30" y="153.52" width="13.22" height="77.06"/>
<rect class="k" x="814.23" y="153.52" width="13.22" height="77.06"/>
<rect class="i" x="827.15" y="153.52" width="13.22" height="77.06"/>
<rect class="h" x="840.08" y="153.52" width="13.22" height="77.06"/>
<rect class="m" x="853.00" y="153.52" width="13.22" height="77.06"/>
<rect class="h" x="865.92" y="153.52" width="13.22" height="77.06"/>
<rect class="f" x="878.85" y="153.52" width="13.22" height="77.06"/>
<rect class="j" x="891.77" y="153.52" width="13.22" height="77.06"/>
<rect class="f" x="904.70" y="153.52" width="13.22" height="77.06"/>
<rect class="j" x="917.62" y="153.52" width="13.22" height="77.06"/>
<rect class="d" x="930.55" y="153.52" width="13.22" height="77.06"/>
<rect class="h" x="943.47" y="153.52" width="13.22" height="77.06"/>
<rect class="i" x="956.39" y="153.52" width="13.22" height="77.06"/>
<rect class="e" x="969.32" y="153.52" width="13.22" height="77.06"/>
<rect class="g" x="982.24" y="153.52" width="13.22" height="77.06"/>
<rect class="a" x="995.17" y="153.52" width="13.22" height="77.06"/>
<rect class="b" x="1008.09" y="153.52" width="13.22" height="77.06"/>
<rect class="d" x="1021.02" y="153.52" width="13.22" height="77.06"/>
<rect class="f" x="1033.94" y="153.52" width="13.22" height="77.06"/>
<rect class="g" x="1046.86" y="153.52" width="13.22" height="77.06"/>
<rect class="e" x="1059.79" y="153.52" width="13.22" height="77.06"/>
<rect class="a" x="1072.71" y="153.52" width="13.22" height="77.06"/>
<rect class="f" x="1085.64" y="153.52" width="26.15" height="77.06"/>
<rect class="h" x="1111.48" y="153.52" width="13.22" height="77.06"/>
<rect class="q" x="1124.41" y="153.52" width="13.22" height="77.06"/>
<rect class="e" x="1137.33" y="153.52" width="13.22" height="77.06"/>
<rect class="l" x="1150.26" y="153.52" width="13.22" height="77.06"/>
<rect class="e" x="1163.18" y="153.52" width="13.22" height="77.06"/>
<rect class="d" x="1176.11" y="153.52" width="13.22" height="77.06"/>
<rect class="c" x="1189.03" y="153.52" width="13.22" height="77.06"/>
<rect class="e" x="1201.95" y="153.52" width="13.22" height="77.06"/>
<rect class="f" x="1214.88" y="153.52" width="13.22" height="77.06"/>
<rect class="k" x="1227.80" y="153.52" width="13.22" height="77.06"/>
<rect class="c" x="1240.73" y="153.52" width="13.22" height="77.06"/>
<rect class="g" x="1253.65" y="153.52" width="13.22" height="77.06"/>
<rect class="j" x="1266.58" y="153.52" width="13.22" height="77.06"/>
<rect class="f" x="1279.50" y="153.52" width="13.22" height="77.06"/>
<rect class="d" x="1292.42" y="153.52" width="26.15" height="77.06"/>
<rect class="f" x="1318.27" y="153.52" width="13.22" height="77.06"/>
<rect class="m" x="1331.20" y="153.52" width="13.22" height="77.06"/>
<rect class="d" x="1344.12" y="153.52" width="13.22" height="77.06"/>
<rect class="k" x="1357.05" y="153.52" width="13.22" height="77.06"/>
<rect class="g" x="1369.97" y="153.52" width="13.22" height="77.06"/>
<rect class="h" x="1382.89" y="153.52" width="13.22" height="77.06"/>
<rect class="f" x="1395.82" y="153.52" width="13.22" height="77.06"/>
<rect class="e" x="1408.74" y="153.52" width="13.22" height="77.06"/>
<rect class="g" x="1421.67" y="153.52" width="13.22" height="77.06"/>
<rect class="h" x="1434.59" y="153.52" width="13.22" height="77.06"/>
<rect class="d" x="1447.52" y="153.52" width="13.22" height="77.06"/>
<rect class="h" x="1460.44" y="153.52" width="13.22" height="77.06"/>
<rect class="k" x="1473.36" y="153.52" width="13.22" height="77.06"/>
<rect class="m" x="1486.29" y="153.52" width="13.22" height="77.06"/>
<rect class="h" x="1499.21" y="153.52" width="13.22" height="77.06"/>
<rect class="n" x="1512.14" y="153.52" width="26.15" height="77.06"/>
<rect class="j" x="1537.98" y="153.52" width="13.22" height="77.06"/>
<rect class="f" x="1550.91" y="153.52" width="13.22" height="77.06"/>
<rect class="i" x="1563.83" y="153.52" width="26.15" height="77.06"/>
<rect class="j" x="1589.68" y="153.52" width="13.22" height="77.06"/>
<rect class="g" x="1602.61" y="153.52" width="13.22" height="77.06"/>
<rect class="r" x="1615.53" y="153.52" width="13.22" height="77.06"/>
<rect class="f" x="1628.45" y="153.52" width="26.15" height="77.06"/>
<rect class="e" x="1654.30" y="153.52" width="13.22" height="77.06"/>
<rect class="j" x="1667.23" y="153.52" width="13.22" height="77.06"/>
<rect class="k" x="1680.15" y="153.52" width="13.22" height="77.06"/>
<rect class="r" x="1693.08" y="153.52" width="13.22" height="77.06"/>
<rect class="f" x="0.00" y="230.29" width="13.22" height="77.06"/>
<rect class="l" x="12.92" y="230.29" width="13.22" height="77.06"/>
<rect class="f" x="25.85" y="230.29" width="26.15" height="77.06"/>
<rect class="m" x="51.70" y="230.29" width="13.22" height="77.06"/>
<rect class="a" x="64.62" y="230.29" width="13.22" height="77.06"/>
<rect class="l" x="77.55" y="230.29" width="13.22" height="77.06"/>
<rect class="g" x="90.47" y="230.29" width="13.22" height="77.06"/>
<rect class="r" x="103.39" y="230.29" width="13.22" height="77.06"/>
<rect class="g" x="116.32" y="230.29" width="13.22" height="77.06"/>
<rect class="a" x="129.24" y="230.29" width="13.22" height="77.06"/>
<rect class="g" x="142.17" y="230.29" width="13.22" height="77.06"/>
<rect class="k" x="155.09" y="230.29" width="13.22" height="77.06"/>
<rect class="h" x="168.02" y="230.29" width="13.22" height="77.06"/>
<rect class="g" x="180.94" y="230.29" width="13.22" height="77.06"/>
<rect class="h" x="193.86" y="230.29" width="13.22" height="77.06"/>
<rect class="g" x="206.79" y="230.29" width="13.22" height="77.06"/>
<rect class="j" x="219.71" y="230.29" width="13.22" height="77.06"/>
<rect class="o" x="232.64" y="230.29" width="13.22" height="77.06"/>
<rect class="j" x="245.56" y="230.29" width="13.22" height="77.06"/>
<rect class="k" x="258.48" y="230.29" width="13.22" height="77.06"/>
<rect class="n" x="271.41" y="230.29" width="13.22" height="77.06"/>
<rect class="r" x="284.33" y="230.29" width="39.07" height="77.06"/>
<rect class="k" x="323.11" y="230.29" width="13.22" height="77.06"/>
<rect class="i" x="336.03" y="230.29" width="13.22" height="77.06"/>
<rect class="k" x="348.95" y="230.29" width="13.22" height="77.06"/>
<rect class="n" x="361.88" y="230.29" width="13.22" height="77.06"/>
<rect class="k" x="374.80" y="230.29" width="13.22" height="77.06"/>
<rect class="n" x="387.73" y="230.29" width="13.22" height="77.06"/>
<rect class="i" x="400.65" y="230.29" width="13.22" height="77.06"/>
<rect class="m" x="413.58" y="230.29" width="13.22" height="77.06"/>
<rect class="n" x="426.50" y="230.29" width="13.22" height="77.06"/>
<rect class="r" x="439.42" y="230.29" width="13.22" height="77.06"/>
<rect class="a" x="452.35" y="230.29" width="13.22" height="77.06"/>
<rect class="d" x="465.27" y="230.29" width="13.22" height="77.06"/>
<rect class="h" x="478.20" y="230.29" width="13.22" height="77.06"/>
<rect class="g" x="491.12" y="230.29" width="13.22" height="77.06"/>
<rect class="f" x="504.05" y="230.29" width="26.15" height="77.06"/>
<rect class="l" x="529.89" y="230.29" width="13.22" height="77.06"/>
<rect class="j" x="542.82" y="230.29" width="13.22" height="77.06"/>
<rect class="i" x="555.74" y="230.29" width="26.15" height="77.06"/>
<rect class="f" x="581.59" y="230.29" width="13.22" height="77.06"/>
<rect class="c" x="594.52" y="230.29" width="13.22" height="77.06"/>
<rect class="a" x="607.44" y="230.29" width="13.22" height="77.06"/>
<rect class="g" x="620.36" y="230.29" width="13.22" height="77.06"/>
<rect class="m" x="633.29" y="230.29" width="13.22" height="77.06"/>
<rect class="j" x="646.21" y="230.29" width="26.15" height="77.06"/>
<rect class="p" x="672.06" y="230.29" width="13.22" height="77.06"/>
<rect class="r" x="684.98" y="230.29" width="13.22" height="77.06"/>
<rect class="n" x="697.91" y="230.29" width="13.22" height="77.06"/>
<rect class="m" x="710.83" y="230.29" width="13.22" height="77.06"/>
<rect class="h" x="723.76" y="230.29" width="13.22" height="77.06"/>
<rect class="c" x="736.68" y="230.29" width="13.22" height="77.06"/>
<rect class="j" x="749.61" y="230.29" width="13.22" height="77.06"/>
<rect class="d" x="762.53" y="230.29" width="13.22" height="77.06"/>
<rect class="j" x="775.45" y="230.29" width="13.22" height="77.06"/>
<rect class="l" x="788.38" y="230.29" width="13.22" height="77.06"/>
<rect class="j" x="801.30" y="230.29" width="13.22" height="77.06"/>
<rect class="k" x="814.23" y="230.29" width="13.22" height="77.06"/>
<rect class="m" x="827.15" y="230.29" width="13.22" height="77.06"/>
<rect class="k" x="840.08" y="230.29" width="13.22" height="77.06"/>
<rect class="l" x="853.00" y="230.29" width="13.22" height="77.06"/>
<rect class="i" x="865.92" y="230.29" width="13.22" height="77.06"/>
<rect class="f" x="878.85" y="230.29" width="13.22" height="77.06"/>
<rect class="j" x="891.77" y="230.29" width="13.22" height="77.06"/>
<rect class="f" x="904.70" y="230.29" width="13.22" height="77.06"/>
<rect class="k" x="917.62" y="230.29" width="13.22" height="77.06"/>
<rect class="d" x="930.55" y="230.29" width="13.22" height="77.06"/>
<rect class="g" x="943.47" y="230.29" width="26.15" height="77.06"/>
<rect class="d" x="969.32" y="230.29" width="13.22" height="77.06"/>
<rect class="f" x="982.24" y="230.29" width="13.22" height="77.06"/>
<rect class="a" x="995.17" y="230.29" width="13.22" height="77.06"/>
<rect class="b" x="1008.09" y="230.29" width="26.15" height="77.06"/>
<rect class="g" x="1033.94" y="230.29" width="26.15" height="77.06"/>
<rect class="b" x="1059.79" y="230.29" width="13.22" height="77.06"/>
<rect class="a" x="1072.71" y="230.29" width="13.22" height="77.06"/>
<rect class="g" x="1085.64" y="230.29" width="13.22" height="77.06"/>
<rect class="f" x="1098.56" y="230.29" width="13.22" height="77.06"/>
<rect class="g" x="1111.48" y="230.29" width="13.22" height="77.06"/>
<rect class="n" x="1124.41" y="230.29" width="13.22" height="77.06"/>
<rect class="b" x="1137.33" y="230.29" width="13.22" height="77.06"/>
<rect class="i" x="1150.26" y="230.29" width="13.22" height="77.06"/>
<rect class="g" x="1163.18" y="230.29" width="13.22" height="77.06"/>
<rect class="e" x="1176.11" y="230.29" width="13.22" height="77.06"/>
<rect class="c" x="1189.03" y="230.29" width="13.22" height="77.06"/>
<rect class="e" x="1201.95" y="230.29" width="13.22" height="77.06"/>
<rect class="b" x="1214.88" y="230.29" width="13.22" height="77.06"/>
<rect class="h" x="1227.80" y="230.29" width="13.22" height="77.06"/>
<rect class="d" x="1240.73" y="230.29" width="13.22" height="77.06"/>
<rect class="g" x="1253.65" y="230.29" width="13.22" height="77.06"/>
<rect class="j" x="1266.58" y="230.29" width="13.22" height="77.06"/>
<rect class="f" x="1279.50" y="230.29" width="13.22" height="77.06"/>
<rect class="d" x="1292.42" y="230.29" width="13.22" height="77.06"/>
<rect class="g" x="1305.35" y="230.29" width="13.22" height="77.06"/>
<rect class="e" x="1318.27" y="230.29" width="13.22" height="77.06"/>
<rect class="m" x="1331.20" y="230.29" width="13.22" height="77.06"/>
<rect class="f" x="1344.12" y="230.29" width="13.22" height="77.06"/>
<rect class="k" x="1357.05" y="230.29" width="13.22" height="77.06"/>
<rect class="g" x="1369.97" y="230.29" width="13.22" height="77.06"/>
<rect class="p" x="1382.89" y="230.29" width="13.22" height="77.06"/>
<rect class="e" x="1395.82" y="230.29" width="13.22" height="77.06"/>
<rect class="f" x="1408.74" y="230.29" width="13.22" height="77.06"/>
<rect class="i" x="1421.67" y="230.29" width="13.22" height="77.06"/>
<rect class="h" x="1434.59" y="230.29" width="13.22" height="77.06"/>
<rect class="i" x="1447.52" y="230.29" width="13.22" height="77.06"/>
<rect class="g" x="1460.44" y="230.29" width="13.22" height="77.06"/>
<rect class="k" x="1473.36" y="230.29" width="13.22" height="77.06"/>
<rect class="m" x="1486.29" y="230.29" width="13.22" height="77.06"/>
<rect class="h" x="1499.21" y="230.29" width="13.22" height="77.06"/>
<rect class="o" x="1512.14" y="230.29" width="13.22" height="77.06"/>
<rect class="q" x="1525.06" y="230.29" width="13.22" height="77.06"/>
<rect class="l" x="1537.98" y="230.29" width="13.22" height="77.06"/>
<rect class="g" x="1550.91" y="230.29" width="13.22" height="77.06"/>
<rect class="i" x="1563.83" y="230.29" width="26.15" height="77.06"/>
<rect class="k" x="1589.68" y="230.29" width="13.22" height="77.06"/>
<rect class="f" x="1602.61" y="230.29" width="13.22" height="77.06"/>
<rect class="r" x="1615.53" y="230.29" width="13.22" height="77.06"/>
<rect class="g" x="1628.45" y="230.29" width="13.22" height="77.06"/>
<rect class="f" x="1641.38" y="230.29" width="13.22" height="77.06"/>
<rect class="e" x="1654.30" y="230.29" width="13.22" height="77.06"/>
<rect class="i" x="1667.23" y="230.29" width="13.22" height="77.06"/>
<rect class="k" x="1680.15" y="230.29" width="13.22" height="77.06"/>
<rect class="r" x="1693.08" y="230.29" width="13.22" height="77.06"/>
<rect class="e" x="0.00" y="307.05" width="13.22" height="77.06"/>
<rect class="l" x="12.92" y="307.05" width="13.22" height="77.06"/>
<rect class="f" x="25.85" y="307.05" width="13.22" height="77.06"/>
<rect class="e" x="38.77" y="307.05" width="13.22" height="77.06"/>
<rect class="j" x="51.70" y="307.05" width="13.22" height="77.06"/>
<rect class="a" x="64.62" y="307.05" width="13.22" height="77.06"/>
<rect class="l" x="77.55" y="307.05" width="13.22" height="77.06"/>
<rect class="g" x="90.47" y="307.05" width="13.22" height="77.06"/>
<rect class="r" x="103.39" y="307.05" width="13.22" height="77.06"/>
<rect class="f" x="116.32" y="307.05" width="13.22" height="77.06"/>
<rect class="a" x="129.24" y="307.05" width="13.22" height="77.06"/>
<rect class="e" x="142.17" y="307.05" width="13.22" height="77.06"/>
<rect class="k" x="155.09" y="307.05" width="13.22" height="77.06"/>
<rect class="g" x="168.02" y="307.05" width="26.15" height="77.06"/>
<rect class="k" x="193.86" y="307.05" width="13.22" height="77.06"/>
<rect class="j" x="206.79" y="307.05" width="13.22" height="77.06"/>
<rect class="l" x="219.71" y="307.05" width="13.22" height="77.06"/>
<rect class="p" x="232.64" y="307.05" width="13.22" height="77.06"/>
<rect class="k" x="245.56" y="307.05" width="26.15" height="77.06"/>
<rect class="r" x="271.41" y="307.05" width="26.15" height="77.06"/>
<rect class="o" x="297.26" y="307.05" width="13.22" height="77.06"/>
<rect class="r" x="310.18" y="307.05" width="13.22" height="77.06"/>
<rect class="k" x="323.11" y="307.05" width="13.22" height="77.06"/>
<rect class="i" x="336.03" y="307.05" width="13.22" height="77.06"/>
<rect class="j" x="348.95" y="307.05" width="13.22" height="77.06"/>
<rect class="n" x="361.88" y="307.05" width="13.22" height="77.06"/>
<rect class="l" x="374.80" y="307.05" width="13.22" height="77.06"/>
<rect class="n" x="387.73" y="307.05" width="13.22" height="77.06"/>
<rect class="j" x="400.65" y="307.05" width="13.22" height="77.06"/>
<rect class="m" x="413.58" y="307.05" width="13.22" height="77.06"/>
<rect class="r" x="426.50" y="307.05" width="26.15" height="77.06"/>
<rect class="a" x="452.35" y="307.05" width="13.22" height="77.06"/>
<rect class="d" x="465.27" y="307.05" width="13.22" height="77.06"/>
<rect class="h" x="478.20" y="307.05" width="13.22" height="77.06"/>
<rect class="g" x="491.12" y="307.05" width="13.22" height="77.06"/>
<rect class="e" x="504.05" y="307.05" width="13.22" height="77.06"/>
<rect class="d" x="516.97" y="307.05" width="13.22" height="77.06"/>
<rect class="q" x="529.89" y="307.05" width="13.22" height="77.06"/>
<rect class="j" x="542.82" y="307.05" width="13.22" height="77.06"/>
<rect class="g" x="555.74" y="307.05" width="13.22" height="77.06"/>
<rect class="h" x="568.67" y="307.05" width="13.22" height="77.06"/>
<rect class="d" x="581.59" y="307.05" width="13.22" height="77.06"/>
<rect class="a" x="594.52" y="307.05" width="26.15" height="77.06"/>
<rect class="i" x="620.36" y="307.05" width="13.22" height="77.06"/>
<rect class="m" x="633.29" y="307.05" width="13.22" height="77.06"/>
<rect class="j" x="646.21" y="307.05" width="13.22" height="77.06"/>
<rect class="l" x="659.14" y="307.05" width="13.22" height="77.06"/>
<rect class="p" x="672.06" y="307.05" width="13.22" height="77.06"/>
<rect class="r" x="684.98" y="307.05" width="13.22" height="77.06"/>
<rect class="m" x="697.91" y="307.05" width="26.15" height="77.06"/>
<rect class="g" x="723.76" y="307.05" width="13.22" height="77.06"/>
<rect class="c" x="736.68" y="307.05" width="13.22" height="77.06"/>
<rect class="h" x="749.61" y="307.05" width="13.22" height="77.06"/>
<rect class="d" x="762.53" y="307.05" width="13.22" height="77.06"/>
<rect class="i" x="775.45" y="307.05" width="13.22" height="77.06"/>
<rect class="m" x="788.38" y="307.05" width="13.22" height="77.06"/>
<rect class="l" x="801.30" y="307.05" width="26.15" height="77.06"/>
<rect class="o" x="827.15" y="307.05" width="13.22" height="77.06"/>
<rect class="h" x="840.08" y="307.05" width="13.22" height="77.06"/>
<rect class="j" x="853.00" y="307.05" width="13.22" height="77.06"/>
<rect class="i" x="865.92" y="307.05" width="13.22" height="77.06"/>
<rect class="f" x="878.85" y="307.05" width="13.22" height="77.06"/>
<rect class="i" x="891.77" y="307.05" width="13.22" height="77.06"/>
<rect class="f" x="904.70" y="307.05" width="13.22" height="77.06"/>
<rect class="l" x="917.62" y="307.05" width="13.22" height="77.06"/>
<rect class="d" x="930.55" y="307.05" width="13.22" height="77.06"/>
<rect class="h" x="943.47" y="307.05" width="13.22" height="77.06"/>
<rect class="g" x="956.39" y="307.05" width="13.22" height="77.06"/>
<rect class="b" x="969.32" y="307.05" width="13.22" height="77.06"/>
<rect class="i" x="982.24" y="307.05" width="13.22" height="77.06"/>
<rect class="a" x="995.17" y="307.05" width="13.22" height="77.06"/>
<rect class="b" x="1008.09" y="307.05" width="26.15" height="77.06"/>
<rect class="f" x="1033.94" y="307.05" width="13.22" height="77.06"/>
<rect class="e" x="1046.86" y="307.05" width="13.22" height="77.06"/>
<rect class="a" x="1059.79" y="307.05" width="26.15" height="77.06"/>
<rect class="i" x="1085.64" y="307.05" width="13.22" height="77.06"/>
<rect class="e" x="1098.56" y="307.05" width="13.22" height="77.06"/>
<rect class="f" x="1111.48" y="307.05" width="13.22" height="77.06"/>
<rect class="l" x="1124.41" y="307.05" width="13.22" height="77.06"/>
<rect class="a" x="1137.33" y="307.05" width="13.22" height="77.06"/>
<rect class="g" x="1150.26" y="307.05" width="26.15" height="77.06"/>
<rect class="d" x="1176.11" y="307.05" width="13.22" height="77.06"/>
<rect class="b" x="1189.03" y="307.05" width="26.15" height="77.06"/>
<rect class="a" x="1214.88" y="307.05" width="13.22" height="77.06"/>
<rect class="i" x="1227.80" y="307.05" width="13.22" height="77.06"/>
<rect class="e" x="1240.73" y="307.05" width="13.22" height="77.06"/>
<rect class="h" x="1253.65" y="307.05" width="13.22" height="77.06"/>
<rect class="i" x="1266.58" y="307.05" width="13.22" height="77.06"/>
<rect class="e" x="1279.50" y="307.05" width="13.22" height="77.06"/>
<rect class="h" x="1292.42" y="307.05" width="13.22" height="77.06"/>
<rect class="n" x="1305.35" y="307.05" width="13.22" height="77.06"/>
<rect class="g" x="1318.27" y="307.05" width="13.22" height="77.06"/>
<rect class="l" x="1331.20" y="307.05" width="13.22" height="77.06"/>
<rect class="i" x="1344.12" y="307.05" width="13.22" height="77.06"/>
<rect class="l" x="1357.05" y="307.05" width="13.22" height="77.06"/>
<rect class="j" x="1369.97" y="307.05" width="13.22" height="77.06"/>
<rect class="r" x="1382.89" y="307.05" width="13.22" height="77.06"/>
<rect class="e" x="1395.82" y="307.05" width="13.22" height="77.06"/>
<rect class="f" x="1408.74" y="307.05" width="13.22" height="77.06"/>
<rect class="i" x="1421.67" y="307.05" width="13.22" height="77.06"/>
<rect class="l" x="1434.59" y="307.05" width="13.22" height="77.06"/>
<rect class="o" x="1447.52" y="307.05" width="13.22" height="77.06"/>
<rect class="e" x="1460.44" y="307.05" width="13.22" height="77.06"/>
<rect class="j" x="1473.36" y="307.05" width="13.22" height="77.06"/>
<rect class="n" x="1486.29" y="307.05" width="13.22" height="77.06"/>
<rect class="j" x="1499.21" y="307.05" width="13.22" height="77.06"/>
<rect class="o" x="1512.14" y="307.05" width="13.22" height="77.06"/>
<rect class="q" x="1525.06" y="307.05" width="26.15" height="77.06"/>
<rect class="g" x="1550.91" y="307.05" width="13.22" height="77.06"/>
<rect class="i" x="1563.83" y="307.05" width="13.22" height="77.06"/>
<rect class="j" x="1576.76" y="307.05" width="26.15" height="77.06"/>
<rect class="f" x="1602.61" y="307.05" width="13.22" height="77.06"/>
<rect class="r" x="1615.53" y="307.05" width="13.22" height="77.06"/>
<rect class="f" x="1628.45" y="307.05" width="26.15" height="77.06"/>
<rect class="d" x="1654.30" y="307.05" width="13.22" height="77.06"/>
<rect class="h" x="1667.23" y="307.05" width="13.22" height="77.06"/>
<rect class="l" x="1680.15" y="307.05" width="13.22" height="77.06"/>
<rect class="r" x="1693.08" y="307.05" width="13.22" height="77.06"/>
<rect class="g" x="0.00" y="383.81" width="13.22" height="77.06"/>
<rect class="n" x="12.92" y="383.81" width="13.22" height="77.06"/>
<rect class="g" x="25.85" y="383.81" width="13.22" height="77.06"/>
<rect class="f" x="38.77" y="383.81" width="13.22" height="77.06"/>
<rect class="g" x="51.70" y="383.81" width="13.22" height="77.06"/>
<rect class="d" x="64.62" y="383.81" width="13.22" height="77.06"/>
<rect class="j" x="77.55" y="383.81" width="13.22" height="77.06"/>
<rect class="g" x="90.47" y="383.81" width="13.22" height="77.06"/>
<rect class="r" x="103.39" y="383.81" width="13.22" height="77.06"/>
<rect class="c" x="116.32" y="383.81" width="13.22" height="77.06"/>
<rect class="a" x="129.24" y="383.81" width="13.22" height="77.06"/>
<rect class="g" x="142.17" y="383.81" width="13.22" height="77.06"/>
<rect class="l" x="155.09" y="383.81" width="13.22" height="77.06"/>
<rect class="e" x="168.02" y="383.81" width="13.22" height="77.06"/>
<rect class="f" x="180.94" y="383.81" width="13.22" height="77.06"/>
<rect class="k" x="193.86" y="383.81" width="13.22" height="77.06"/>
<rect class="j" x="206.79" y="383.81" width="13.22" height="77.06"/>
<rect class="l" x="219.71" y="383.81" width="13.22" height="77.06"/>
<rect class="q" x="232.64" y="383.81" width="13.22" height="77.06"/>
<rect class="k" x="245.56" y="383.81" width="13.22" height="77.06"/>
<rect class="m" x="258.48" y="383.81" width="13.22" height="77.06"/>
<rect class="r" x="271.41" y="383.81" width="13.22" height="77.06"/>
<rect class="q" x="284.33" y="383.81" width="13.22" height="77.06"/>
<rect class="k" x="297.26" y="383.81" width="13.22" height="77.06"/>
<rect class="r" x="310.18" y="383.81" width="13.22" height="77.06"/>
<rect class="k" x="323.11" y="383.81" width="13.22" height="77.06"/>
<rect class="h" x="336.03" y="383.81" width="13.22" height="77.06"/>
<rect class="j" x="348.95" y="383.81" width="13.22" height="77.06"/>
<rect class="l" x="361.88" y="383.81" width="26.15" height="77.06"/>
<rect class="o" x="387.73" y="383.81" width="13.22" height="77.06"/>
<rect class="j" x="400.65" y="383.81" width="13.22" height="77.06"/>
<rect class="n" x="413.58" y="383.81" width="13.22" height="77.06"/>
<rect class="r" x="426.50" y="383.81" width="13.22" height="77.06"/>
<rect class="o" x="439.42" y="383.81" width="13.22" height="77.06"/>
<rect class="a" x="452.35" y="383.81" width="13.22" height="77.06"/>
<rect class="c" x="465.27" y="383.81" width="13.22" height="77.06"/>
<rect class="h" x="478.20" y="383.81" width="13.22" height="77.06"/>
<rect class="e" x="491.12" y="383.81" width="26.15" height="77.06"/>
<rect class="h" x="516.97" y="383.81" width="13.22" height="77.06"/>
<rect class="q" x="529.89" y="383.81" width="13.22" height="77.06"/>
<rect class="j" x="542.82" y="383.81" width="13.22" height="77.06"/>
<rect class="g" x="555.74" y="383.81" width="13.22" height="77.06"/>
<rect class="f" x="568.67" y="383.81" width="13.22" height="77.06"/>
<rect class="b" x="581.59" y="383.81" width="13.22" height="77.06"/>
<rect class="c" x="594.52" y="383.81" width="13.22" height="77.06"/>
<rect class="a" x="607.44" y="383.81" width="13.22" height="77.06"/>
<rect class="i" x="620.36" y="383.81" width="13.22" height="77.06"/>
<rect class="l" x="633.29" y="383.81" width="13.22" height="77.06"/>
<rect class="j" x="646.21" y="383.81" width="13.22" height="77.06"/>
<rect class="m" x="659.14" y="383.81" width="26.15" height="77.06"/>
<rect class="o" x="684.98" y="383.81" width="13.22" height="77.06"/>
<rect class="l" x="697.91" y="383.81" width="13.22" height="77.06"/>
<rect class="m" x="710.83" y="383.81" width="13.22" height="77.06"/>
<rect class="f" x="723.76" y="383.81" width="13.22" height="77.06"/>
<rect class="b" x="736.68" y="383.81" width="13.22" height="77.06"/>
<rect class="c" x="749.61" y="383.81" width="13.22" height="77.06"/>
<rect class="d" x="762.53" y="383.81" width="13.22" height="77.06"/>
<rect class="i" x="775.45" y="383.81" width="13.22" height="77.06"/>
<rect class="m" x="788.38" y="383.81" width="13.22" height="77.06"/>
<rect class="k" x="801.30" y="383.81" width="13.22" height="77.06"/>
<rect class="m" x="814.23" y="383.81" width="13.22" height="77.06"/>
<rect class="n" x="827.15" y="383.81" width="13.22" height="77.06"/>
<rect class="d" x="840.08" y="383.81" width="13.22" height="77.06"/>
<rect class="j" x="853.00" y="383.81" width="13.22" height="77.06"/>
<rect class="k" x="865.92" y="383.81" width="13.22" height="77.06"/>
<rect class="h" x="878.85" y="383.81" width="13.22" height="77.06"/>
<rect class="g" x="891.77" y="383.81" width="13.22" height="77.06"/>
<rect class="f" x="904.70" y="383.81" width="13.22" height="77.06"/>
<rect class="k" x="917.62" y="383.81" width="13.22" height="77.06"/>
<rect class="e" x="930.55" y="383.81" width="13.22" height="77.06"/>
<rect class="f" x="943.47" y="383.81" width="26.15" height="77.06"/>
<rect class="b" x="969.32" y="383.81" width="13.22" height="77.06"/>
<rect class="l" x="982.24" y="383.81" width="13.22" height="77.06"/>
<rect class="a" x="995.17" y="383.81" width="26.15" height="77.06"/>
<rect class="b" x="1021.02" y="383.81" width="13.22" height="77.06"/>
<rect class="e" x="1033.94" y="383.81" width="26.15" height="77.06"/>
<rect class="d" x="1059.79" y="383.81" width="13.22" height="77.06"/>
<rect class="a" x="1072.71" y="383.81" width="13.22" height="77.06"/>
<rect class="i" x="1085.64" y="383.81" width="13.22" height="77.06"/>
<rect class="f" x="1098.56" y="383.81" width="13.22" height="77.06"/>
<rect class="e" x="1111.48" y="383.81" width="13.22" height="77.06"/>
<rect class="i" x="1124.41" y="383.81" width="13.22" height="77.06"/>
<rect class="c" x="1137.33" y="383.81" width="13.22" height="77.06"/>
<rect class="i" x="1150.26" y="383.81" width="13.22" height="77.06"/>
<rect class="g" x="1163.18" y="383.81" width="13.22" height="77.06"/>
<rect class="d" x="1176.11" y="383.81" width="13.22" height="77.06"/>
<rect class="b" x="1189.03" y="383.81" width="13.22" height="77.06"/>
<rect class="a" x="1201.95" y="383.81" width="26.15" height="77.06"/>
<rect class="k" x="1227.80" y="383.81" width="13.22" height="77.06"/>
<rect class="e" x="1240.73" y="383.81" width="13.22" height="77.06"/>
<rect class="g" x="1253.65" y="383.81" width="13.22" height="77.06"/>
<rect class="h" x="1266.58" y="383.81" width="13.22" height="77.06"/>
<rect class="f" x="1279.50" y="383.81" width="13.22" height="77.06"/>
<rect class="k" x="1292.42" y="383.81" width="13.22" height="77.06"/>
<rect class="q" x="1305.35" y="383.81" width="13.22" height="77.06"/>
<rect class="g" x="1318.27" y="383.81" width="13.22" height="77.06"/>
<rect class="l" x="1331.20" y="383.81" width="13.22" height="77.06"/>
<rect class="m" x="1344.12" y="383.81" width="13.22" height="77.06"/>
<rect class="k" x="1357.05" y="383.81" width="13.22" height="77.06"/>
<rect class="j" x="1369.97" y="383.81" width="13.22" height="77.06"/>
<rect class="r" x="1382.89" y="383.81" width="13.22" height="77.06"/>
<rect class="e" x="1395.82" y="383.81" width="13.22" height="77.06"/>
<rect class="h" x="1408.74" y="383.81" width="26.15" height="77.06"/>
<rect class="l" x="1434.59" y="383.81" width="13.22" height="77.06"/>
<rect class="p" x="1447.52" y="383.81" width="13.22" height="77.06"/>
<rect class="e" x="1460.44" y="383.81" width="13.22" height="77.06"/>
<rect class="j" x="1473.36" y="383.81" width="13.22" height="77.06"/>
<rect class="o" x="1486.29" y="383.81" width="13.22" height="77.06"/>
<rect class="l" x="1499.21" y="383.81" width="13.22" height="77.06"/>
<rect class="r" x="1512.14" y="383.81" width="13.22" height="77.06"/>
<rect class="p" x="1525.06" y="383.81" width="13.22" height="77.06"/>
<rect class="r" x="1537.98" y="383.81" width="13.22" height="77.06"/>
<rect class="h" x="1550.91" y="383.81" width="13.22" height="77.06"/>
<rect class="i" x="1563.83" y="383.81" width="13.22" height="77.06"/>
<rect class="k" x="1576.76" y="383.81" width="26.15" height="77.06"/>
<rect class="f" x="1602.61" y="383.81" width="13.22" height="77.06"/>
<rect class="r" x="1615.53" y="383.81" width="13.22" height="77.06"/>
<rect class="g" x="1628.45" y="383.81" width="13.22" height="77.06"/>
<rect class="f" x="1641.38" y="383.81" width="13.22" height="77.06"/>
<rect class="d" x="1654.30" y="383.81" width="13.22" height="77.06"/>
<rect class="j" x="1667.23" y="383.81" width="13.22" height="77.06"/>
<rect class="n" x="1680.15" y="383.81" width="13.22" height="77.06"/>
<rect class="r" x="1693.08" y="383.81" width="13.22" height="77.06"/>
<rect class="f" x="0.00" y="460.57" width="13.22" height="77.06"/>
<rect class="o" x="12.92" y="460.57" width="13.22" height="77.06"/>
<rect class="i" x="25.85" y="460.57" width="26.15" height="77.06"/>
<rect class="d" x="51.70" y="460.57" width="13.22" height="77.06"/>
<rect class="c" x="64.62" y="460.57" width="13.22" height="77.06"/>
<rect class="i" x="77.55" y="460.57" width="13.22" height="77.06"/>
<rect class="h" x="90.47" y="460.57" width="13.22" height="77.06"/>
<rect class="r" x="103.39" y="460.57" width="13.22" height="77.06"/>
<rect class="c" x="116.32" y="460.57" width="13.22" height="77.06"/>
<rect class="a" x="129.24" y="460.57" width="13.22" height="77.06"/>
<rect class="l" x="142.17" y="460.57" width="26.15" height="77.06"/>
<rect class="b" x="168.02" y="460.57" width="13.22" height="77.06"/>
<rect class="f" x="180.94" y="460.57" width="13.22" height="77.06"/>
<rect class="j" x="193.86" y="460.57" width="39.07" height="77.06"/>
<rect class="r" x="232.64" y="460.57" width="13.22" height="77.06"/>
<rect class="k" x="245.56" y="460.57" width="13.22" height="77.06"/>
<rect class="o" x="258.48" y="460.57" width="13.22" height="77.06"/>
<rect class="q" x="271.41" y="460.57" width="13.22" height="77.06"/>
<rect class="o" x="284.33" y="460.57" width="13.22" height="77.06"/>
<rect class="j" x="297.26" y="460.57" width="13.22" height="77.06"/>
<rect class="r" x="310.18" y="460.57" width="13.22" height="77.06"/>
<rect class="l" x="323.11" y="460.57" width="13.22" height="77.06"/>
<rect class="g" x="336.03" y="460.57" width="13.22" height="77.06"/>
<rect class="j" x="348.95" y="460.57" width="13.22" height="77.06"/>
<rect class="l" x="361.88" y="460.57" width="26.15" height="77.06"/>
<rect class="o" x="387.73" y="460.57" width="13.22" height="77.06"/>
<rect class="k" x="400.65" y="460.57" width="13.22" height="77.06"/>
<rect class="r" x="413.58" y="460.57" width="26.15" height="77.06"/>
<rect class="n" x="439.42" y="460.57" width="13.22" height="77.06"/>
<rect class="a" x="452.35" y="460.57" width="26.15" height="77.06"/>
<rect class="g" x="478.20" y="460.57" width="13.22" height="77.06"/>
<rect class="d" x="491.12" y="460.57" width="13.22" height="77.06"/>
<rect class="g" x="504.05" y="460.57" width="13.22" height="77.06"/>
<rect class="k" x="516.97" y="460.57" width="13.22" height="77.06"/>
<rect class="p" x="529.89" y="460.57" width="13.22" height="77.06"/>
<rect class="j" x="542.82" y="460.57" width="13.22" height="77.06"/>
<rect class="a" x="555.74" y="460.57" width="13.22" height="77.06"/>
<rect class="c" x="568.67" y="460.57" width="13.22" height="77.06"/>
<rect class="b" x="581.59" y="460.57" width="13.22" height="77.06"/>
<rect class="d" x="594.52" y="460.57" width="13.22" height="77.06"/>
<rect class="a" x="607.44" y="460.57" width="13.22" height="77.06"/>
<rect class="f" x="620.36" y="460.57" width="13.22" height="77.06"/>
<rect class="l" x="633.29" y="460.57" width="13.22" height="77.06"/>
<rect class="h" x="646.21" y="460.57" width="13.22" height="77.06"/>
<rect class="l" x="659.14" y="460.57" width="13.22" height="77.06"/>
<rect class="k" x="672.06" y="460.57" width="13.22" height="77.06"/>
<rect class="n" x="684.98" y="460.57" width="13.22" height="77.06"/>
<rect class="i" x="697.91" y="460.57" width="13.22" height="77.06"/>
<rect class="l" x="710.83" y="460.57" width="13.22" height="77.06"/>
<rect class="f" x="723.76" y="460.57" width="13.22" height="77.06"/>
<rect class="c" x="736.68" y="460.57" width="13.22" height="77.06"/>
<rect class="g" x="749.61" y="460.57" width="13.22" height="77.06"/>
<rect class="c" x="762.53" y="460.57" width="13.22" height="77.06"/>
<rect class="e" x="775.45" y="460.57" width="13.22" height="77.06"/>
<rect class="m" x="788.38" y="460.57" width="13.22" height="77.06"/>
<rect class="k" x="801.30" y="460.57" width="13.22" height="77.06"/>
<rect class="o" x="814.23" y="460.57" width="13.22" height="77.06"/>
<rect class="l" x="827.15" y="460.57" width="13.22" height="77.06"/>
<rect class="d" x="840.08" y="460.57" width="13.22" height="77.06"/>
<rect class="i" x="853.00" y="460.57" width="13.22" height="77.06"/>
<rect class="l" x="865.92" y="460.57" width="13.22" height="77.06"/>
<rect class="i" x="878.85" y="460.57" width="13.22" height="77.06"/>
<rect class="g" x="891.77" y="460.57" width="13.22" height="77.06"/>
<rect class="h" x="904.70" y="460.57" width="13.22" height="77.06"/>
<rect class="m" x="917.62" y="460.57" width="13.22" height="77.06"/>
<rect class="d" x="930.55" y="460.57" width="13.22" height="77.06"/>
<rect class="g" x="943.47" y="460.57" width="13.22" height="77.06"/>
<rect class="d" x="956.39" y="460.57" width="13.22" height="77.06"/>
<rect class="b" x="969.32" y="460.57" width="13.22" height="77.06"/>
<rect class="l" x="982.24" y="460.57" width="13.22" height="77.06"/>
<rect class="a" x="995.17" y="460.57" width="39.07" height="77.06"/>
<rect class="e" x="1033.94" y="460.57" width="26.15" height="77.06"/>
<rect class="d" x="1059.79" y="460.57" width="13.22" height="77.06"/>
<rect class="b" x="1072.71" y="460.57" width="13.22" height="77.06"/>
<rect class="h" x="1085.64" y="460.57" width="13.22" height="77.06"/>
<rect class="f" x="1098.56" y="460.57" width="13.22" height="77.06"/>
<rect class="b" x="1111.48" y="460.57" width="13.22" height="77.06"/>
<rect class="j" x="1124.41" y="460.57" width="13.22" height="77.06"/>
<rect class="a" x="1137.33" y="460.57" width="13.22" height="77.06"/>
<rect class="c" x="1150.26" y="460.57" width="13.22" height="77.06"/>
<rect class="g" x="1163.18" y="460.57" width="13.22" height="77.06"/>
<rect class="c" x="1176.11" y="460.57" width="13.22" height="77.06"/>
<rect class="a" x="1189.03" y="460.57" width="26.15" height="77.06"/>
<rect class="c" x="1214.88" y="460.57" width="13.22" height="77.06"/>
<rect class="k" x="1227.80" y="460.57" width="13.22" height="77.06"/>
<rect class="e" x="1240.73" y="460.57" width="13.22" height="77.06"/>
<rect class="h" x="1253.65" y="460.57" width="26.15" height="77.06"/>
<rect class="f" x="1279.50" y="460.57" width="13.22" height="77.06"/>
<rect class="i" x="1292.42" y="460.57" width="13.22" height="77.06"/>
<rect class="q" x="1305.35" y="460.57" width="13.22" height="77.06"/>
<rect class="i" x="1318.27" y="460.57" width="13.22" height="77.06"/>
<rect class="m" x="1331.20" y="460.57" width="13.22" height="77.06"/>
<rect class="n" x="1344.12" y="460.57" width="26.15" height="77.06"/>
<rect class="l" x="1369.97" y="460.57" width="13.22" height="77.06"/>
<rect class="p" x="1382.89" y="460.57" width="13.22" height="77.06"/>
<rect class="i" x="1395.82" y="460.57" width="13.22" height="77.06"/>
<rect class="h" x="1408.74" y="460.57" width="13.22" height="77.06"/>
<rect class="i" x="1421.67" y="460.57" width="13.22" height="77.06"/>
<rect class="l" x="1434.59" y="460.57" width="13.22" height="77.06"/>
<rect class="o" x="1447.52" y="460.57" width="13.22" height="77.06"/>
<rect class="e" x="1460.44" y="460.57" width="13.22" height="77.06"/>
<rect class="j" x="1473.36" y="460.57" width="13.22" height="77.06"/>
<rect class="r" x="1486.29" y="460.57" width="13.22" height="77.06"/>
<rect class="m" x="1499.21" y="460.57" width="13.22" height="77.06"/>
<rect class="p" x="1512.14" y="460.57" width="26.15" height="77.06"/>
<rect class="r" x="1537.98" y="460.57" width="13.22" height="77.06"/>
<rect class="g" x="1550.91" y="460.57" width="13.22" height="77.06"/>
<rect class="k" x="1563.83" y="460.57" width="13.22" height="77.06"/>
<rect class="m" x="1576.76" y="460.57" width="13.22" height="77.06"/>
<rect class="i" x="1589.68" y="460.57" width="13.22" height="77.06"/>
<rect class="d" x="1602.61" y="460.57" width="13.22" height="77.06"/>
<rect class="o" x="1615.53" y="460.57" width="13.22" height="77.06"/>
<rect class="h" x="1628.45" y="460.57" width="13.22" height="77.06"/>
<rect class="f" x="1641.38" y="460.57" width="13.22" height="77.06"/>
<rect class="d" x="1654.30" y="460.57" width="13.22" height="77.06"/>
<rect class="g" x="1667.23" y="460.57" width="13.22" height="77.06"/>
<rect class="m" x="1680.15" y="460.57" width="13.22" height="77.06"/>
<rect class="p" x="1693.08" y="460.57" width="13.22" height="77.06"/>
<rect class="k" x="0.00" y="537.34" width="13.22" height="77.06"/>
<rect class="q" x="12.92" y="537.34" width="13.22" height="77.06"/>
<rect class="h" x="25.85" y="537.34" width="26.15" height="77.06"/>
<rect class="a" x="51.70" y="537.34" width="13.22" height="77.06"/>
<rect class="b" x="64.62" y="537.34" width="13.22" height="77.06"/>
<rect class="f" x="77.55" y="537.34" width="26.15" height="77.06"/>
<rect class="r" x="103.39" y="537.34" width="13.22" height="77.06"/>
<rect class="c" x="116.32" y="537.34" width="13.22" height="77.06"/>
<rect class="f" x="129.24" y="537.34" width="13.22" height="77.06"/>
<rect class="m" x="142.17" y="537.34" width="13.22" height="77.06"/>
<rect class="i" x="155.09" y="537.34" width="13.22" height="77.06"/>
<rect class="a" x="168.02" y="537.34" width="13.22" height="77.06"/>
<rect class="b" x="180.94" y="537.34" width="13.22" height="77.06"/>
<rect class="d" x="193.86" y="537.34" width="13.22" height="77.06"/>
<rect class="g" x="206.79" y="537.34" width="26.15" height="77.06"/>
<rect class="r" x="232.64" y="537.34" width="13.22" height="77.06"/>
<rect class="o" x="245.56" y="537.34" width="13.22" height="77.06"/>
<rect class="p" x="258.48" y="537.34" width="13.22" height="77.06"/>
<rect class="n" x="271.41" y="537.34" width="13.22" height="77.06"/>
<rect class="m" x="284.33" y="537.34" width="13.22" height="77.06"/>
<rect class="d" x="297.26" y="537.34" width="13.22" height="77.06"/>
<rect class="r" x="310.18" y="537.34" width="13.22" height="77.06"/>
<rect class="l" x="323.11" y="537.34" width="13.22" height="77.06"/>
<rect class="f" x="336.03" y="537.34" width="13.22" height="77.06"/>
<rect class="i" x="348.95" y="537.34" width="13.22" height="77.06"/>
<rect class="k" x="361.88" y="537.34" width="13.22" height="77.06"/>
<rect class="l" x="374.80" y="537.34" width="13.22" height="77.06"/>
<rect class="r" x="387.73" y="537.34" width="13.22" height="77.06"/>
<rect class="n" x="400.65" y="537.34" width="13.22" height="77.06"/>
<rect class="r" x="413.58" y="537.34" width="13.22" height="77.06"/>
<rect class="n" x="426.50" y="537.34" width="13.22" height="77.06"/>
<rect class="l" x="439.42" y="537.34" width="13.22" height="77.06"/>
<rect class="b" x="452.35" y="537.34" width="13.22" height="77.06"/>
<rect class="a" x="465.27" y="537.34" width="13.22" height="77.06"/>
<rect class="f" x="478.20" y="537.34" width="13.22" height="77.06"/>
<rect class="h" x="491.12" y="537.34" width="13.22" height="77.06"/>
<rect class="k" x="504.05" y="537.34" width="26.15" height="77.06"/>
<rect class="p" x="529.89" y="537.34" width="13.22" height="77.06"/>
<rect class="j" x="542.82" y="537.34" width="13.22" height="77.06"/>
<rect class="a" x="555.74" y="537.34" width="13.22" height="77.06"/>
<rect class="d" x="568.67" y="537.34" width="13.22" height="77.06"/>
<rect class="b" x="581.59" y="537.34" width="13.22" height="77.06"/>
<rect class="e" x="594.52" y="537.34" width="13.22" height="77.06"/>
<rect class="c" x="607.44" y="537.34" width="13.22" height="77.06"/>
<rect class="e" x="620.36" y="537.34" width="13.22" height="77.06"/>
<rect class="j" x="633.29" y="537.34" width="13.22" height="77.06"/>
<rect class="f" x="646.21" y="537.34" width="13.22" height="77.06"/>
<rect class="j" x="659.14" y="537.34" width="13.22" height="77.06"/>
<rect class="k" x="672.06" y="537.34" width="13.22" height="77.06"/>
<rect class="j" x="684.98" y="537.34" width="13.22" height="77.06"/>
<rect class="i" x="697.91" y="537.34" width="13.22" height="77.06"/>
<rect class="k" x="710.83" y="537.34" width="13.22" height="77.06"/>
<rect class="b" x="723.76" y="537.34" width="13.22" height="77.06"/>
<rect class="d" x="736.68" y="537.34" width="13.22" height="77.06"/>
<rect class="g" x="749.61" y="537.34" width="13.22" height="77.06"/>
<rect class="d" x="762.53" y="537.34" width="13.22" height="77.06"/>
<rect class="a" x="775.45" y="537.34" width="13.22" height="77.06"/>
<rect class="o" x="788.38" y="537.34" width="13.22" height="77.06"/>
<rect class="l" x="801.30" y="537.34" width="26.15" height="77.06"/>
<rect class="j" x="827.15" y="537.34" width="13.22" height="77.06"/>
<rect class="g" x="840.08" y="537.34" width="26.15" height="77.06"/>
<rect class="l" x="865.92" y="537.34" width="26.15" height="77.06"/>
<rect class="c" x="891.77" y="537.34" width="13.22" height="77.06"/>
<rect class="h" x="904.70" y="537.34" width="13.22" height="77.06"/>
<rect class="n" x="917.62" y="537.34" width="13.22" height="77.06"/>
<rect class="d" x="930.55" y="537.34" width="13.22" height="77.06"/>
<rect class="g" x="943.47" y="537.34" width="13.22" height="77.06"/>
<rect class="h" x="956.39" y="537.34" width="26.15" height="77.06"/>
<rect class="n" x="982.24" y="537.34" width="13.22" height="77.06"/>
<rect class="d" x="995.17" y="537.34" width="13.22" height="77.06"/>
<rect class="a" x="1008.09" y="537.34" width="26.15" height="77.06"/>
<rect class="d" x="1033.94" y="537.34" width="13.22" height="77.06"/>
<rect class="j" x="1046.86" y="537.34" width="13.22" height="77.06"/>
<rect class="g" x="1059.79" y="537.34" width="13.22" height="77.06"/>
<rect class="k" x="1072.71" y="537.34" width="13.22" height="77.06"/>
<rect class="f" x="1085.64" y="537.34" width="13.22" height="77.06"/>
<rect class="b" x="1098.56" y="537.34" width="13.22" height="77.06"/>
<rect class="a" x="1111.48" y="537.34" width="13.22" height="77.06"/>
<rect class="h" x="1124.41" y="537.34" width="13.22" height="77.06"/>
<rect class="e" x="1137.33" y="537.34" width="13.22" height="77.06"/>
<rect class="g" x="1150.26" y="537.34" width="13.22" height="77.06"/>
<rect class="d" x="1163.18" y="537.34" width="26.15" height="77.06"/>
<rect class="a" x="1189.03" y="537.34" width="13.22" height="77.06"/>
<rect class="h" x="1201.95" y="537.34" width="13.22" height="77.06"/>
<rect class="d" x="1214.88" y="537.34" width="13.22" height="77.06"/>
<rect class="m" x="1227.80" y="537.34" width="13.22" height="77.06"/>
<rect class="f" x="1240.73" y="537.34" width="13.22" height="77.06"/>
<rect class="e" x="1253.65" y="537.34" width="13.22" height="77.06"/>
<rect class="l" x="1266.58" y="537.34" width="13.22" height="77.06"/>
<rect class="k" x="1279.50" y="537.34" width="13.22" height="77.06"/>
<rect class="i" x="1292.42" y="537.34" width="13.22" height="77.06"/>
<rect class="p" x="1305.35" y="537.34" width="13.22" height="77.06"/>
<rect class="g" x="1318.27" y="537.34" width="13.22" height="77.06"/>
<rect class="l" x="1331.20" y="537.34" width="13.22" height="77.06"/>
<rect class="o" x="1344.12" y="537.34" width="13.22" height="77.06"/>
<rect class="n" x="1357.05" y="537.34" width="13.22" height="77.06"/>
<rect class="j" x="1369.97" y="537.34" width="13.22" height="77.06"/>
<rect class="n" x="1382.89" y="537.34" width="13.22" height="77.06"/>
<rect class="j" x="1395.82" y="537.34" width="26.15" height="77.06"/>
<rect class="g" x="1421.67" y="537.34" width="13.22" height="77.06"/>
<rect class="l" x="1434.59" y="537.34" width="26.15" height="77.06"/>
<rect class="b" x="1460.44" y="537.34" width="13.22" height="77.06"/>
<rect class="q" x="1473.36" y="537.34" width="13.22" height="77.06"/>
<rect class="r" x="1486.29" y="537.34" width="13.22" height="77.06"/>
<rect class="p" x="1499.21" y="537.34" width="13.22" height="77.06"/>
<rect class="n" x="1512.14" y="537.34" width="26.15" height="77.06"/>
<rect class="r" x="1537.98" y="537.34" width="13.22" height="77.06"/>
<rect class="f" x="1550.91" y="537.34" width="13.22" height="77.06"/>
<rect class="j" x="1563.83" y="537.34" width="13.22" height="77.06"/>
<rect class="m" x="1576.76" y="537.34" width="13.22" height="77.06"/>
<rect class="h" x="1589.68" y="537.34" width="13.22" height="77.06"/>
<rect class="i" x="1602.61" y="537.34" width="13.22" height="77.06"/>
<rect class="b" x="1615.53" y="537.34" width="13.22" height="77.06"/>
<rect class="h" x="1628.45" y="537.34" width="13.22" height="77.06"/>
<rect class="f" x="1641.38" y="537.34" width="13.22" height="77.06"/>
<rect class="g" x="1654.30" y="537.34" width="26.15" height="77.06"/>
<rect class="l" x="1680.15" y="537.34" width="26.15" height="77.06"/>
<rect x="0" y="96.30" width="1706.0" height="1.2" fill="rgba(235,235,235,0.16)"/>
<rect x="0" y="218.60" width="1706.0" height="1.2" fill="rgba(235,235,235,0.16)"/>
<rect x="0" y="341.70" width="1706.0" height="1.2" fill="rgba(235,235,235,0.16)"/>
<rect x="0" y="464.90" width="1706.0" height="1.2" fill="rgba(235,235,235,0.16)"/>
<rect x="0" y="588.20" width="1706.0" height="1.2" fill="rgba(235,235,235,0.16)"/>
<rect x="73.75" y="0" width="6.0" height="614.10" fill="rgba(0,0,0,0.72)"/>
<rect x="151.29" y="0" width="6.0" height="614.10" fill="rgba(0,0,0,0.72)"/>
<rect x="228.84" y="0" width="6.0" height="614.10" fill="rgba(0,0,0,0.72)"/>
<rect x="306.38" y="0" width="6.0" height="614.10" fill="rgba(0,0,0,0.72)"/>
<rect x="383.93" y="0" width="6.0" height="614.10" fill="rgba(0,0,0,0.72)"/>
<rect x="461.47" y="0" width="6.0" height="614.10" fill="rgba(0,0,0,0.72)"/>
<rect x="539.02" y="0" width="6.0" height="614.10" fill="rgba(0,0,0,0.72)"/>
<rect x="616.56" y="0" width="6.0" height="614.10" fill="rgba(0,0,0,0.72)"/>
<rect x="694.11" y="0" width="6.0" height="614.10" fill="rgba(0,0,0,0.72)"/>
<rect x="771.65" y="0" width="6.0" height="614.10" fill="rgba(0,0,0,0.72)"/>
<rect x="849.20" y="0" width="6.0" height="614.10" fill="rgba(0,0,0,0.72)"/>
<rect x="926.75" y="0" width="6.0" height="614.10" fill="rgba(0,0,0,0.72)"/>
<rect x="1004.29" y="0" width="6.0" height="614.10" fill="rgba(0,0,0,0.72)"/>
<rect x="1081.84" y="0" width="6.0" height="614.10" fill="rgba(0,0,0,0.72)"/>
<rect x="1159.38" y="0" width="6.0" height="614.10" fill="rgba(0,0,0,0.72)"/>
<rect x="1236.93" y="0" width="6.0" height="614.10" fill="rgba(0,0,0,0.72)"/>
<rect x="1314.47" y="0" width="6.0" height="614.10" fill="rgba(0,0,0,0.72)"/>
<rect x="1392.02" y="0" width="6.0" height="614.10" fill="rgba(0,0,0,0.72)"/>
<rect x="1469.56" y="0" width="6.0" height="614.10" fill="rgba(0,0,0,0.72)"/>
<rect x="1547.11" y="0" width="6.0" height="614.10" fill="rgba(0,0,0,0.72)"/>
<rect x="1624.65" y="0" width="6.0" height="614.10" fill="rgba(0,0,0,0.72)"/>
</svg>
<div class="box" style="left:153.5px;top:818.50px;width:1706.0px;height:614.10px"></div>
<div class="yt" style="top:80.3px">1000</div>
<div class="yt" style="top:155.9px">900</div>
<div class="yt" style="top:231.5px">800</div>
<div class="yt" style="top:307.1px">700</div>
<div class="yt" style="top:382.6px">600</div>
<div class="yt" style="top:458.2px">500</div>
<div class="yt" style="top:533.8px">400</div>
<div class="yt" style="top:609.4px">300</div>
<div class="yt" style="top:834.1px">1000</div>
<div class="yt" style="top:910.8px">900</div>
<div class="yt" style="top:987.6px">800</div>
<div class="yt" style="top:1064.4px">700</div>
<div class="yt" style="top:1141.1px">600</div>
<div class="yt" style="top:1217.9px">500</div>
<div class="yt" style="top:1294.7px">400</div>
<div class="yt" style="top:1371.4px">300</div>
<div class="xt" style="left:2.7px;top:675.5px">2000</div>
<div class="xt" style="left:80.2px;top:675.5px">2001</div>
<div class="xt" style="left:157.8px;top:675.5px">2002</div>
<div class="xt" style="left:235.3px;top:675.5px">2003</div>
<div class="xt" style="left:312.9px;top:675.5px">2004</div>
<div class="xt" style="left:390.4px;top:675.5px">2005</div>
<div class="xt" style="left:467.9px;top:675.5px">2006</div>
<div class="xt" style="left:545.5px;top:675.5px">2007</div>
<div class="xt" style="left:623.0px;top:675.5px">2008</div>
<div class="xt" style="left:700.6px;top:675.5px">2009</div>
<div class="xt" style="left:778.1px;top:675.5px">2010</div>
<div class="xt" style="left:855.7px;top:675.5px">2011</div>
<div class="xt" style="left:933.2px;top:675.5px">2012</div>
<div class="xt" style="left:1010.8px;top:675.5px">2013</div>
<div class="xt" style="left:1088.3px;top:675.5px">2014</div>
<div class="xt" style="left:1165.9px;top:675.5px">2015</div>
<div class="xt" style="left:1243.4px;top:675.5px">2016</div>
<div class="xt" style="left:1320.9px;top:675.5px">2017</div>
<div class="xt" style="left:1398.5px;top:675.5px">2018</div>
<div class="xt" style="left:1476.0px;top:675.5px">2019</div>
<div class="xt" style="left:1553.6px;top:675.5px">2020</div>
<div class="xt" style="left:1631.1px;top:675.5px">2021</div>
<div class="xt" style="left:2.7px;top:1438.1px">2000</div>
<div class="xt" style="left:80.2px;top:1438.1px">2001</div>
<div class="xt" style="left:157.8px;top:1438.1px">2002</div>
<div class="xt" style="left:235.3px;top:1438.1px">2003</div>
<div class="xt" style="left:312.9px;top:1438.1px">2004</div>
<div class="xt" style="left:390.4px;top:1438.1px">2005</div>
<div class="xt" style="left:467.9px;top:1438.1px">2006</div>
<div class="xt" style="left:545.5px;top:1438.1px">2007</div>
<div class="xt" style="left:623.0px;top:1438.1px">2008</div>
<div class="xt" style="left:700.6px;top:1438.1px">2009</div>
<div class="xt" style="left:778.1px;top:1438.1px">2010</div>
<div class="xt" style="left:855.7px;top:1438.1px">2011</div>
<div class="xt" style="left:933.2px;top:1438.1px">2012</div>
<div class="xt" style="left:1010.8px;top:1438.1px">2013</div>
<div class="xt" style="left:1088.3px;top:1438.1px">2014</div>
<div class="xt" style="left:1165.9px;top:1438.1px">2015</div>
<div class="xt" style="left:1243.4px;top:1438.1px">2016</div>
<div class="xt" style="left:1320.9px;top:1438.1px">2017</div>
<div class="xt" style="left:1398.5px;top:1438.1px">2018</div>
<div class="xt" style="left:1476.0px;top:1438.1px">2019</div>
<div class="xt" style="left:1553.6px;top:1438.1px">2020</div>
<div class="xt" style="left:1631.1px;top:1438.1px">2021</div>
<div class="yl" style="left:-368.0px;top:342.6px">Elevation bins (m a.s.l.)</div>
<div class="yl" style="left:-368.0px;top:1100.5px">Elevation bins (m a.s.l.)</div>
<div class="cb" style="left:1886.7px;width:55.6px;top:65.3px;height:606.3px;background:linear-gradient(to bottom,rgb(62,10,22) 0.00%,rgb(75,12,28) 3.28%,rgb(95,14,34) 7.06%,rgb(125,14,40) 10.84%,rgb(145,12,42) 13.37%,rgb(160,22,40) 15.89%,rgb(175,38,38) 18.41%,rgb(185,55,40) 20.93%,rgb(192,68,44) 23.46%,rgb(196,80,52) 25.98%,rgb(200,92,62) 28.50%,rgb(204,103,74) 31.02%,rgb(208,115,88) 33.54%,rgb(213,130,105) 36.07%,rgb(217,145,122) 38.59%,rgb(221,160,140) 41.11%,rgb(225,175,158) 43.63%,rgb(229,190,176) 46.15%,rgb(233,205,195) 48.68%,rgb(237,220,214) 51.20%,rgb(241,236,235) 53.72%,rgb(228,232,233) 56.24%,rgb(212,224,228) 58.76%,rgb(195,215,222) 61.29%,rgb(178,205,215) 63.81%,rgb(160,197,208) 66.33%,rgb(143,188,203) 68.85%,rgb(125,178,199) 71.37%,rgb(105,168,197) 73.90%,rgb(85,155,195) 76.42%,rgb(65,143,193) 78.94%,rgb(45,130,193) 81.46%,rgb(28,117,196) 83.98%,rgb(16,104,199) 86.51%,rgb(22,90,198) 89.03%,rgb(32,76,190) 91.55%,rgb(42,64,172) 94.07%,rgb(42,55,152) 96.60%,rgb(40,50,135) 99.12%,rgb(38,47,128) 100.00%)"></div>
<div class="cb" style="left:1889.0px;width:56.2px;top:818.5px;height:615.7px;background:linear-gradient(to bottom,rgb(41,57,155) 0.00%,rgb(41,64,172) 3.03%,rgb(38,72,185) 5.89%,rgb(26,86,196) 8.75%,rgb(18,98,198) 11.61%,rgb(22,110,197) 14.47%,rgb(35,122,194) 17.32%,rgb(52,134,193) 20.18%,rgb(70,145,193) 23.04%,rgb(90,158,195) 25.90%,rgb(112,172,198) 28.76%,rgb(136,185,202) 31.62%,rgb(160,197,208) 34.48%,rgb(183,208,217) 37.34%,rgb(205,220,226) 40.19%,rgb(224,229,231) 43.05%,rgb(241,236,235) 45.91%,rgb(237,222,216) 48.77%,rgb(233,208,198) 51.63%,rgb(229,193,180) 54.49%,rgb(225,178,162) 57.35%,rgb(220,163,143) 60.21%,rgb(216,148,125) 63.06%,rgb(211,133,107) 65.92%,rgb(207,118,90) 68.78%,rgb(203,103,74) 71.64%,rgb(198,88,58) 74.50%,rgb(195,75,48) 77.36%,rgb(190,60,40) 80.22%,rgb(175,38,40) 83.08%,rgb(158,20,40) 85.93%,rgb(148,13,40) 87.65%,rgb(120,14,38) 91.65%,rgb(95,13,30) 95.65%,rgb(72,11,25) 100.00%)"></div>
<div class="seam" style="left:1888px;width:53px;top:153.0px"></div><div class="seam" style="left:1888px;width:53px;top:276.8px"></div><div class="seam" style="left:1888px;width:53px;top:399.0px"></div><div class="seam" style="left:1888px;width:53px;top:522.0px"></div><div class="seam" style="left:1888px;width:53px;top:645.3px"></div>
<div class="seam" style="left:1890.5px;width:53.5px;top:915.8px"></div><div class="seam" style="left:1890.5px;width:53.5px;top:1038.1px"></div><div class="seam" style="left:1890.5px;width:53.5px;top:1161.2px"></div><div class="seam" style="left:1890.5px;width:53.5px;top:1284.4px"></div><div class="seam" style="left:1890.5px;width:53.5px;top:1407.7px"></div>
<div class="ctk" style="left:1934.8px;top:85.1px"></div>
<div class="ct" style="left:1954.2px;top:63.1px">20</div>
<div class="ctk" style="left:1934.8px;top:161.3px"></div>
<div class="ct" style="left:1954.2px;top:139.3px">15</div>
<div class="ctk" style="left:1934.8px;top:237.6px"></div>
<div class="ct" style="left:1954.2px;top:215.6px">10</div>
<div class="ctk" style="left:1934.8px;top:313.9px"></div>
<div class="ct" style="left:1954.2px;top:291.9px">5</div>
<div class="ctk" style="left:1934.8px;top:390.1px"></div>
<div class="ct" style="left:1954.2px;top:368.1px">0</div>
<div class="ctk" style="left:1934.8px;top:466.4px"></div>
<div class="ct" style="left:1954.2px;top:444.4px">-5</div>
<div class="ctk" style="left:1934.8px;top:542.6px"></div>
<div class="ct" style="left:1954.2px;top:520.6px">-10</div>
<div class="ctk" style="left:1934.8px;top:618.9px"></div>
<div class="ct" style="left:1954.2px;top:596.9px">-15</div>
<div class="ctk" style="left:1937.7px;top:819.7px"></div>
<div class="ct" style="left:1957.0px;top:797.7px">8</div>
<div class="ctk" style="left:1937.7px;top:889.9px"></div>
<div class="ct" style="left:1957.0px;top:867.9px">6</div>
<div class="ctk" style="left:1937.7px;top:960.1px"></div>
<div class="ct" style="left:1957.0px;top:938.1px">4</div>
<div class="ctk" style="left:1937.7px;top:1030.3px"></div>
<div class="ct" style="left:1957.0px;top:1008.3px">2</div>
<div class="ctk" style="left:1937.7px;top:1100.5px"></div>
<div class="ct" style="left:1957.0px;top:1078.5px">0</div>
<div class="ctk" style="left:1937.7px;top:1170.7px"></div>
<div class="ct" style="left:1957.0px;top:1148.7px">-2</div>
<div class="ctk" style="left:1937.7px;top:1240.9px"></div>
<div class="ct" style="left:1957.0px;top:1218.9px">-4</div>
<div class="ctk" style="left:1937.7px;top:1311.1px"></div>
<div class="ct" style="left:1957.0px;top:1289.1px">-6</div>
<div class="ctk" style="left:1937.7px;top:1381.3px"></div>
<div class="ct" style="left:1957.0px;top:1359.3px">-8</div>
<div class="cl" style="left:1628.3px;top:359.2px">Melt energy anomaly (W m<sup>-2</sup>)</div>
<div class="cl" style="left:1626.7px;top:1122.0px">Albedo anomaly (%)</div>
</body></html>
